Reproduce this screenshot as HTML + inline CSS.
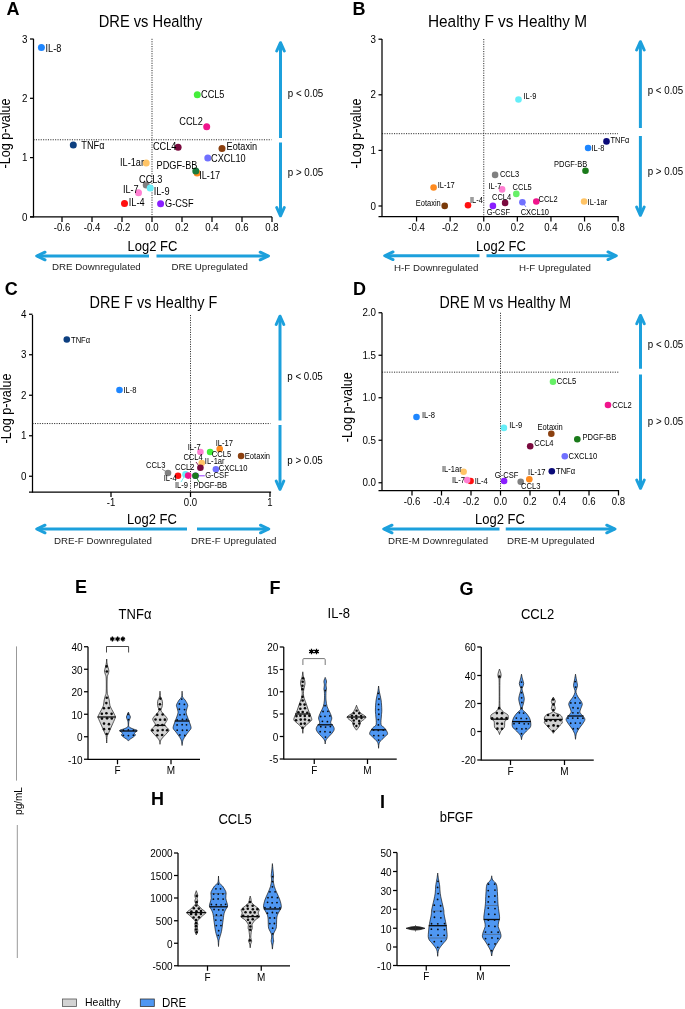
<!DOCTYPE html>
<html><head><meta charset="utf-8"><style>
html,body{margin:0;padding:0;background:#fff;}
body{width:685px;height:1009px;overflow:hidden;}
svg{display:block;will-change:transform;font-family:"Liberation Sans",sans-serif;}
</style></head><body>
<svg width="685" height="1009" viewBox="0 0 685 1009" font-family="Liberation Sans, sans-serif">
<rect width="685" height="1009" fill="#fff"/>
<line x1="33.5" y1="38.8" x2="33.5" y2="217.5" stroke="#000" stroke-width="1.25" stroke-linecap="butt"/>
<line x1="30.0" y1="216.9" x2="272.1" y2="216.9" stroke="#000" stroke-width="1.25" stroke-linecap="butt"/>
<line x1="30.0" y1="216.9" x2="33.5" y2="216.9" stroke="#000" stroke-width="1.25" stroke-linecap="butt"/>
<text transform="translate(27.5 220.5) scale(1 1.12)" font-size="9.8" text-anchor="end" fill="#000" >0</text>
<line x1="30.0" y1="157.60000000000002" x2="33.5" y2="157.60000000000002" stroke="#000" stroke-width="1.25" stroke-linecap="butt"/>
<text transform="translate(27.5 161.20000000000002) scale(1 1.12)" font-size="9.8" text-anchor="end" fill="#000" >1</text>
<line x1="30.0" y1="98.30000000000001" x2="33.5" y2="98.30000000000001" stroke="#000" stroke-width="1.25" stroke-linecap="butt"/>
<text transform="translate(27.5 101.9) scale(1 1.12)" font-size="9.8" text-anchor="end" fill="#000" >2</text>
<line x1="30.0" y1="39.00000000000003" x2="33.5" y2="39.00000000000003" stroke="#000" stroke-width="1.25" stroke-linecap="butt"/>
<text transform="translate(27.5 42.60000000000003) scale(1 1.12)" font-size="9.8" text-anchor="end" fill="#000" >3</text>
<line x1="62.0" y1="216.9" x2="62.0" y2="221.9" stroke="#000" stroke-width="1.25" stroke-linecap="butt"/>
<text transform="translate(62.0 230.9) scale(1 1.12)" font-size="9.6" text-anchor="middle" fill="#000" >-0.6</text>
<line x1="92.0" y1="216.9" x2="92.0" y2="221.9" stroke="#000" stroke-width="1.25" stroke-linecap="butt"/>
<text transform="translate(92.0 230.9) scale(1 1.12)" font-size="9.6" text-anchor="middle" fill="#000" >-0.4</text>
<line x1="122.0" y1="216.9" x2="122.0" y2="221.9" stroke="#000" stroke-width="1.25" stroke-linecap="butt"/>
<text transform="translate(122.0 230.9) scale(1 1.12)" font-size="9.6" text-anchor="middle" fill="#000" >-0.2</text>
<line x1="152" y1="216.9" x2="152" y2="221.9" stroke="#000" stroke-width="1.25" stroke-linecap="butt"/>
<text transform="translate(152 230.9) scale(1 1.12)" font-size="9.6" text-anchor="middle" fill="#000" >0.0</text>
<line x1="182.0" y1="216.9" x2="182.0" y2="221.9" stroke="#000" stroke-width="1.25" stroke-linecap="butt"/>
<text transform="translate(182.0 230.9) scale(1 1.12)" font-size="9.6" text-anchor="middle" fill="#000" >0.2</text>
<line x1="212.0" y1="216.9" x2="212.0" y2="221.9" stroke="#000" stroke-width="1.25" stroke-linecap="butt"/>
<text transform="translate(212.0 230.9) scale(1 1.12)" font-size="9.6" text-anchor="middle" fill="#000" >0.4</text>
<line x1="242.0" y1="216.9" x2="242.0" y2="221.9" stroke="#000" stroke-width="1.25" stroke-linecap="butt"/>
<text transform="translate(242.0 230.9) scale(1 1.12)" font-size="9.6" text-anchor="middle" fill="#000" >0.6</text>
<line x1="272.0" y1="216.9" x2="272.0" y2="221.9" stroke="#000" stroke-width="1.25" stroke-linecap="butt"/>
<text transform="translate(272.0 230.9) scale(1 1.12)" font-size="9.6" text-anchor="middle" fill="#000" >0.8</text>
<line x1="152" y1="38.8" x2="152" y2="216.9" stroke="#151515" stroke-width="0.9" stroke-dasharray="1.1,1.3" stroke-linecap="butt"/>
<line x1="33.5" y1="139.7507" x2="271.5" y2="139.7507" stroke="#151515" stroke-width="0.9" stroke-dasharray="1.1,1.3" stroke-linecap="butt"/>
<text transform="translate(6.4 14.8) scale(1 1.0)" font-size="18" text-anchor="start" font-weight="bold" fill="#000" >A</text>
<text transform="translate(150.5 26.8) scale(1 1.12)" font-size="14.7" text-anchor="middle" fill="#000" >DRE vs Healthy</text>
<text transform="translate(9.8 133.5) rotate(-90) scale(1 1.12)" font-size="12.6" text-anchor="middle" fill="#000" >-Log p-value</text>
<text transform="translate(152.5 251) scale(1 1.12)" font-size="13" text-anchor="middle" fill="#000" >Log2 FC</text>
<line x1="280.5" y1="43" x2="280.5" y2="138" stroke="#1ca0dc" stroke-width="3" stroke-linecap="butt"/>
<path d="M276.7,51.0 L280.5,42.7 L284.3,51.0" fill="none" stroke="#1ca0dc" stroke-width="3" stroke-linecap="round" stroke-linejoin="round"/>
<line x1="280.5" y1="215.5" x2="280.5" y2="142.5" stroke="#1ca0dc" stroke-width="3" stroke-linecap="butt"/>
<path d="M276.7,207.5 L280.5,215.8 L284.3,207.5" fill="none" stroke="#1ca0dc" stroke-width="3" stroke-linecap="round" stroke-linejoin="round"/>
<text transform="translate(287.8 96.9) scale(1 1.12)" font-size="9.75" text-anchor="start" fill="#000" >p &lt; 0.05</text>
<text transform="translate(287.8 176.4) scale(1 1.12)" font-size="9.75" text-anchor="start" fill="#000" >p &gt; 0.05</text>
<line x1="37" y1="256" x2="149" y2="256" stroke="#1ca0dc" stroke-width="3" stroke-linecap="butt"/>
<path d="M45.0,252.2 L36.7,256 L45.0,259.8" fill="none" stroke="#1ca0dc" stroke-width="3" stroke-linecap="round" stroke-linejoin="round"/>
<line x1="268.2" y1="256" x2="156.5" y2="256" stroke="#1ca0dc" stroke-width="3" stroke-linecap="butt"/>
<path d="M260.2,252.2 L268.5,256 L260.2,259.8" fill="none" stroke="#1ca0dc" stroke-width="3" stroke-linecap="round" stroke-linejoin="round"/>
<text transform="translate(52 270.3) scale(1 0.97)" font-size="9.75" text-anchor="start" fill="#222" >DRE Downregulated</text>
<text transform="translate(171.5 270.3) scale(1 0.97)" font-size="9.75" text-anchor="start" fill="#222" >DRE Upregulated</text>
<circle cx="41.4" cy="47.5" r="3.5" fill="#1e86ff"/>
<circle cx="197.3" cy="94.8" r="3.5" fill="#44ee3a"/>
<circle cx="206.7" cy="126.7" r="3.5" fill="#f0148c"/>
<circle cx="73.3" cy="145" r="3.5" fill="#0d3f80"/>
<circle cx="178.1" cy="147.2" r="3.5" fill="#7a0a3e"/>
<circle cx="222" cy="148.4" r="3.5" fill="#8b4010"/>
<circle cx="207.8" cy="158.1" r="3.5" fill="#7070ff"/>
<circle cx="146.2" cy="163" r="3.5" fill="#ffc466"/>
<circle cx="197.1" cy="172.9" r="3.5" fill="#ff8a1e"/>
<circle cx="195.8" cy="171" r="3.5" fill="#1a7a3c"/>
<circle cx="146.2" cy="185" r="3.5" fill="#808080"/>
<circle cx="150.2" cy="187.9" r="3.5" fill="#66eef8"/>
<circle cx="138.5" cy="192.7" r="3.5" fill="#ff80d2"/>
<circle cx="124.5" cy="203.4" r="3.5" fill="#ff1010"/>
<circle cx="160.6" cy="203.8" r="3.5" fill="#8a1eff"/>
<text transform="translate(45.5 51.9) scale(1 1.12)" font-size="9.2" text-anchor="start" fill="#000" >IL-8</text>
<text transform="translate(201 98) scale(1 1.12)" font-size="9.2" text-anchor="start" fill="#000" >CCL5</text>
<text transform="translate(179.3 125) scale(1 1.12)" font-size="9.2" text-anchor="start" fill="#000" >CCL2</text>
<text transform="translate(81.3 148.8) scale(1 1.12)" font-size="9.2" text-anchor="start" fill="#000" >TNFα</text>
<text transform="translate(152.9 150.4) scale(1 1.12)" font-size="9.2" text-anchor="start" fill="#000" >CCL4</text>
<text transform="translate(226.5 149.5) scale(1 1.12)" font-size="9.2" text-anchor="start" fill="#000" >Eotaxin</text>
<text transform="translate(211 162.2) scale(1 1.12)" font-size="9.2" text-anchor="start" fill="#000" >CXCL10</text>
<text transform="translate(120 165.7) scale(1 1.12)" font-size="9.2" text-anchor="start" fill="#000" >IL-1ar</text>
<text transform="translate(199.2 179.3) scale(1 1.12)" font-size="9.2" text-anchor="start" fill="#000" >IL-17</text>
<text transform="translate(156.6 168.6) scale(1 1.12)" font-size="9.2" text-anchor="start" fill="#000" >PDGF-BB</text>
<text transform="translate(139 182.6) scale(1 1.12)" font-size="9.2" text-anchor="start" fill="#000" >CCL3</text>
<text transform="translate(153.7 195.4) scale(1 1.12)" font-size="9.2" text-anchor="start" fill="#000" >IL-9</text>
<text transform="translate(122.9 193) scale(1 1.12)" font-size="9.2" text-anchor="start" fill="#000" >IL-7</text>
<text transform="translate(128.8 206.3) scale(1 1.12)" font-size="9.2" text-anchor="start" fill="#000" >IL-4</text>
<text transform="translate(165 207.1) scale(1 1.12)" font-size="9.2" text-anchor="start" fill="#000" >G-CSF</text>
<line x1="382" y1="39" x2="382" y2="217.1" stroke="#000" stroke-width="1.25" stroke-linecap="butt"/>
<line x1="378.5" y1="216.5" x2="618.6" y2="216.5" stroke="#000" stroke-width="1.25" stroke-linecap="butt"/>
<line x1="378.5" y1="206.0" x2="382" y2="206.0" stroke="#000" stroke-width="1.25" stroke-linecap="butt"/>
<text transform="translate(376 209.6) scale(1 1.12)" font-size="9.8" text-anchor="end" fill="#000" >0</text>
<line x1="378.5" y1="150.4" x2="382" y2="150.4" stroke="#000" stroke-width="1.25" stroke-linecap="butt"/>
<text transform="translate(376 154.0) scale(1 1.12)" font-size="9.8" text-anchor="end" fill="#000" >1</text>
<line x1="378.5" y1="94.8" x2="382" y2="94.8" stroke="#000" stroke-width="1.25" stroke-linecap="butt"/>
<text transform="translate(376 98.39999999999999) scale(1 1.12)" font-size="9.8" text-anchor="end" fill="#000" >2</text>
<line x1="378.5" y1="39.19999999999999" x2="382" y2="39.19999999999999" stroke="#000" stroke-width="1.25" stroke-linecap="butt"/>
<text transform="translate(376 42.79999999999999) scale(1 1.12)" font-size="9.8" text-anchor="end" fill="#000" >3</text>
<line x1="416.55" y1="216.5" x2="416.55" y2="221.5" stroke="#000" stroke-width="1.25" stroke-linecap="butt"/>
<text transform="translate(416.55 230.5) scale(1 1.12)" font-size="9.6" text-anchor="middle" fill="#000" >-0.4</text>
<line x1="450.15" y1="216.5" x2="450.15" y2="221.5" stroke="#000" stroke-width="1.25" stroke-linecap="butt"/>
<text transform="translate(450.15 230.5) scale(1 1.12)" font-size="9.6" text-anchor="middle" fill="#000" >-0.2</text>
<line x1="483.75" y1="216.5" x2="483.75" y2="221.5" stroke="#000" stroke-width="1.25" stroke-linecap="butt"/>
<text transform="translate(483.75 230.5) scale(1 1.12)" font-size="9.6" text-anchor="middle" fill="#000" >0.0</text>
<line x1="517.35" y1="216.5" x2="517.35" y2="221.5" stroke="#000" stroke-width="1.25" stroke-linecap="butt"/>
<text transform="translate(517.35 230.5) scale(1 1.12)" font-size="9.6" text-anchor="middle" fill="#000" >0.2</text>
<line x1="550.95" y1="216.5" x2="550.95" y2="221.5" stroke="#000" stroke-width="1.25" stroke-linecap="butt"/>
<text transform="translate(550.95 230.5) scale(1 1.12)" font-size="9.6" text-anchor="middle" fill="#000" >0.4</text>
<line x1="584.55" y1="216.5" x2="584.55" y2="221.5" stroke="#000" stroke-width="1.25" stroke-linecap="butt"/>
<text transform="translate(584.55 230.5) scale(1 1.12)" font-size="9.6" text-anchor="middle" fill="#000" >0.6</text>
<line x1="618.15" y1="216.5" x2="618.15" y2="221.5" stroke="#000" stroke-width="1.25" stroke-linecap="butt"/>
<text transform="translate(618.15 230.5) scale(1 1.12)" font-size="9.6" text-anchor="middle" fill="#000" >0.8</text>
<line x1="483.75" y1="39" x2="483.75" y2="216.5" stroke="#151515" stroke-width="0.9" stroke-dasharray="1.1,1.3" stroke-linecap="butt"/>
<line x1="382" y1="133.6644" x2="618" y2="133.6644" stroke="#151515" stroke-width="0.9" stroke-dasharray="1.1,1.3" stroke-linecap="butt"/>
<text transform="translate(352.5 14.5) scale(1 1.0)" font-size="18" text-anchor="start" font-weight="bold" fill="#000" >B</text>
<text transform="translate(507.5 27.2) scale(1 1.12)" font-size="15.4" text-anchor="middle" fill="#000" >Healthy F vs Healthy M</text>
<text transform="translate(360.5 133.5) rotate(-90) scale(1 1.12)" font-size="12.6" text-anchor="middle" fill="#000" >-Log p-value</text>
<text transform="translate(501 251) scale(1 1.12)" font-size="13" text-anchor="middle" fill="#000" >Log2 FC</text>
<line x1="640.4" y1="42" x2="640.4" y2="128" stroke="#1ca0dc" stroke-width="3" stroke-linecap="butt"/>
<path d="M636.6,50.0 L640.4,41.7 L644.1999999999999,50.0" fill="none" stroke="#1ca0dc" stroke-width="3" stroke-linecap="round" stroke-linejoin="round"/>
<line x1="640.4" y1="215" x2="640.4" y2="136" stroke="#1ca0dc" stroke-width="3" stroke-linecap="butt"/>
<path d="M636.6,207.0 L640.4,215.3 L644.1999999999999,207.0" fill="none" stroke="#1ca0dc" stroke-width="3" stroke-linecap="round" stroke-linejoin="round"/>
<text transform="translate(647.6999999999999 94.4) scale(1 1.12)" font-size="9.75" text-anchor="start" fill="#000" >p &lt; 0.05</text>
<text transform="translate(647.6999999999999 175.4) scale(1 1.12)" font-size="9.75" text-anchor="start" fill="#000" >p &gt; 0.05</text>
<line x1="385" y1="255.75" x2="479.5" y2="255.75" stroke="#1ca0dc" stroke-width="3" stroke-linecap="butt"/>
<path d="M393.0,251.95 L384.7,255.75 L393.0,259.55" fill="none" stroke="#1ca0dc" stroke-width="3" stroke-linecap="round" stroke-linejoin="round"/>
<line x1="616" y1="255.75" x2="486.5" y2="255.75" stroke="#1ca0dc" stroke-width="3" stroke-linecap="butt"/>
<path d="M608.0,251.95 L616.3,255.75 L608.0,259.55" fill="none" stroke="#1ca0dc" stroke-width="3" stroke-linecap="round" stroke-linejoin="round"/>
<text transform="translate(394 271.3) scale(1 0.97)" font-size="9.75" text-anchor="start" fill="#222" >H-F Downregulated</text>
<text transform="translate(519 271.3) scale(1 0.97)" font-size="9.75" text-anchor="start" fill="#222" >H-F Upregulated</text>
<line x1="522.4" y1="202.3" x2="526" y2="207" stroke="#7070ff" stroke-width="0.9" stroke-linecap="butt"/>
<circle cx="518.5" cy="99.5" r="3.3" fill="#66eef8"/>
<circle cx="606.5" cy="141.4" r="3.3" fill="#0a0a78"/>
<circle cx="588.1" cy="148" r="3.3" fill="#1e86ff"/>
<circle cx="585.5" cy="170.8" r="3.3" fill="#1a7a1a"/>
<circle cx="495.1" cy="174.9" r="3.3" fill="#808080"/>
<circle cx="433.6" cy="187.5" r="3.3" fill="#ff8a1e"/>
<circle cx="502.1" cy="189.4" r="3.3" fill="#ff80d2"/>
<circle cx="516.3" cy="193.9" r="3.3" fill="#66f066"/>
<circle cx="505.1" cy="202.9" r="3.3" fill="#7a0a3e"/>
<circle cx="536.3" cy="201.5" r="3.3" fill="#f0148c"/>
<circle cx="584.1" cy="201.5" r="3.3" fill="#ffc466"/>
<circle cx="522.4" cy="202.3" r="3.3" fill="#7070ff"/>
<circle cx="444.7" cy="205.9" r="3.3" fill="#7a3a0a"/>
<circle cx="468" cy="205.2" r="3.3" fill="#ff1010"/>
<circle cx="492.9" cy="205.9" r="3.3" fill="#8a1eff"/>
<text transform="translate(523.5 98.8) scale(1 1.12)" font-size="7.5" text-anchor="start" fill="#000" >IL-9</text>
<text transform="translate(610.5 142.5) scale(1 1.12)" font-size="7.5" text-anchor="start" fill="#000" >TNFα</text>
<text transform="translate(591.5 151.2) scale(1 1.12)" font-size="7.5" text-anchor="start" fill="#000" >IL-8</text>
<text transform="translate(554 167.3) scale(1 1.12)" font-size="7.5" text-anchor="start" fill="#000" >PDGF-BB</text>
<text transform="translate(499.9 176.6) scale(1 1.12)" font-size="7.5" text-anchor="start" fill="#000" >CCL3</text>
<text transform="translate(437.7 188) scale(1 1.12)" font-size="7.5" text-anchor="start" fill="#000" >IL-17</text>
<text transform="translate(488.5 189.4) scale(1 1.12)" font-size="7.5" text-anchor="start" fill="#000" >IL-7</text>
<text transform="translate(512.6 189.7) scale(1 1.12)" font-size="7.5" text-anchor="start" fill="#000" >CCL5</text>
<text transform="translate(492 200) scale(1 1.12)" font-size="7.5" text-anchor="start" fill="#000" >CCL4</text>
<text transform="translate(538.5 202) scale(1 1.12)" font-size="7.5" text-anchor="start" fill="#000" >CCL2</text>
<text transform="translate(587.6 205) scale(1 1.12)" font-size="7.5" text-anchor="start" fill="#000" >IL-1ar</text>
<text transform="translate(520.7 214.6) scale(1 1.12)" font-size="7.5" text-anchor="start" fill="#000" >CXCL10</text>
<text transform="translate(415.8 205.5) scale(1 1.12)" font-size="7.5" text-anchor="start" fill="#000" >Eotaxin</text>
<text transform="translate(470 203.4) scale(1 1.12)" font-size="7.5" text-anchor="start" fill="#000" >IL-4</text>
<text transform="translate(486.7 214.7) scale(1 1.12)" font-size="7.5" text-anchor="start" fill="#000" >G-CSF</text>
<line x1="32.5" y1="315" x2="32.5" y2="492.6" stroke="#000" stroke-width="1.25" stroke-linecap="butt"/>
<line x1="29.0" y1="492" x2="271.1" y2="492" stroke="#000" stroke-width="1.25" stroke-linecap="butt"/>
<line x1="29.0" y1="476.25" x2="32.5" y2="476.25" stroke="#000" stroke-width="1.25" stroke-linecap="butt"/>
<text transform="translate(26.5 479.85) scale(1 1.12)" font-size="9.8" text-anchor="end" fill="#000" >0</text>
<line x1="29.0" y1="435.75" x2="32.5" y2="435.75" stroke="#000" stroke-width="1.25" stroke-linecap="butt"/>
<text transform="translate(26.5 439.35) scale(1 1.12)" font-size="9.8" text-anchor="end" fill="#000" >1</text>
<line x1="29.0" y1="395.25" x2="32.5" y2="395.25" stroke="#000" stroke-width="1.25" stroke-linecap="butt"/>
<text transform="translate(26.5 398.85) scale(1 1.12)" font-size="9.8" text-anchor="end" fill="#000" >2</text>
<line x1="29.0" y1="354.75" x2="32.5" y2="354.75" stroke="#000" stroke-width="1.25" stroke-linecap="butt"/>
<text transform="translate(26.5 358.35) scale(1 1.12)" font-size="9.8" text-anchor="end" fill="#000" >3</text>
<line x1="29.0" y1="314.25" x2="32.5" y2="314.25" stroke="#000" stroke-width="1.25" stroke-linecap="butt"/>
<text transform="translate(26.5 317.85) scale(1 1.12)" font-size="9.8" text-anchor="end" fill="#000" >4</text>
<line x1="111.0" y1="492" x2="111.0" y2="497" stroke="#000" stroke-width="1.25" stroke-linecap="butt"/>
<text transform="translate(111.0 506) scale(1 1.12)" font-size="9.6" text-anchor="middle" fill="#000" >-1</text>
<line x1="190.5" y1="492" x2="190.5" y2="497" stroke="#000" stroke-width="1.25" stroke-linecap="butt"/>
<text transform="translate(190.5 506) scale(1 1.12)" font-size="9.6" text-anchor="middle" fill="#000" >0.0</text>
<line x1="270.0" y1="492" x2="270.0" y2="497" stroke="#000" stroke-width="1.25" stroke-linecap="butt"/>
<text transform="translate(270.0 506) scale(1 1.12)" font-size="9.6" text-anchor="middle" fill="#000" >1</text>
<line x1="190.5" y1="315" x2="190.5" y2="492" stroke="#151515" stroke-width="0.9" stroke-dasharray="1.1,1.3" stroke-linecap="butt"/>
<line x1="32.5" y1="423.5595" x2="270.5" y2="423.5595" stroke="#151515" stroke-width="0.9" stroke-dasharray="1.1,1.3" stroke-linecap="butt"/>
<text transform="translate(4.8 295) scale(1 1.0)" font-size="18" text-anchor="start" font-weight="bold" fill="#000" >C</text>
<text transform="translate(153.4 307.5) scale(1 1.12)" font-size="14.47" text-anchor="middle" fill="#000" >DRE F vs Healthy F</text>
<text transform="translate(11 408.5) rotate(-90) scale(1 1.12)" font-size="12.6" text-anchor="middle" fill="#000" >-Log p-value</text>
<text transform="translate(152 524) scale(1 1.12)" font-size="13" text-anchor="middle" fill="#000" >Log2 FC</text>
<line x1="280" y1="316.5" x2="280" y2="420.5" stroke="#1ca0dc" stroke-width="3" stroke-linecap="butt"/>
<path d="M276.2,324.5 L280,316.2 L283.8,324.5" fill="none" stroke="#1ca0dc" stroke-width="3" stroke-linecap="round" stroke-linejoin="round"/>
<line x1="280" y1="489" x2="280" y2="425" stroke="#1ca0dc" stroke-width="3" stroke-linecap="butt"/>
<path d="M276.2,481.0 L280,489.3 L283.8,481.0" fill="none" stroke="#1ca0dc" stroke-width="3" stroke-linecap="round" stroke-linejoin="round"/>
<text transform="translate(287.3 380.4) scale(1 1.12)" font-size="9.75" text-anchor="start" fill="#000" >p &lt; 0.05</text>
<text transform="translate(287.3 464.4) scale(1 1.12)" font-size="9.75" text-anchor="start" fill="#000" >p &gt; 0.05</text>
<line x1="37" y1="529" x2="187" y2="529" stroke="#1ca0dc" stroke-width="3" stroke-linecap="butt"/>
<path d="M45.0,525.2 L36.7,529 L45.0,532.8" fill="none" stroke="#1ca0dc" stroke-width="3" stroke-linecap="round" stroke-linejoin="round"/>
<line x1="268.5" y1="529" x2="197" y2="529" stroke="#1ca0dc" stroke-width="3" stroke-linecap="butt"/>
<path d="M260.5,525.2 L268.8,529 L260.5,532.8" fill="none" stroke="#1ca0dc" stroke-width="3" stroke-linecap="round" stroke-linejoin="round"/>
<text transform="translate(54 544.3) scale(1 0.97)" font-size="9.75" text-anchor="start" fill="#222" >DRE-F Downregulated</text>
<text transform="translate(191 544.3) scale(1 0.97)" font-size="9.75" text-anchor="start" fill="#222" >DRE-F Upregulated</text>
<line x1="162" y1="469" x2="168" y2="473" stroke="#808080" stroke-width="0.9" stroke-linecap="butt"/>
<line x1="185.5" y1="474.4" x2="181" y2="482" stroke="#66eef8" stroke-width="0.9" stroke-linecap="butt"/>
<line x1="195.5" y1="475.8" x2="204.8" y2="475.8" stroke="#8a1eff" stroke-width="0.9" stroke-linecap="butt"/>
<line x1="195.5" y1="475.8" x2="199" y2="482" stroke="#1a7a1a" stroke-width="0.9" stroke-linecap="butt"/>
<line x1="196" y1="462" x2="200.4" y2="467.8" stroke="#7a0a3e" stroke-width="0.9" stroke-linecap="butt"/>
<circle cx="66.8" cy="339.5" r="3.3" fill="#0d3f80"/>
<circle cx="119.5" cy="390" r="3.3" fill="#1e86ff"/>
<circle cx="168" cy="473" r="3.3" fill="#808080"/>
<circle cx="185.5" cy="474.4" r="3.3" fill="#66eef8"/>
<circle cx="178" cy="475.8" r="3.3" fill="#ff1010"/>
<circle cx="188.2" cy="475.6" r="3.3" fill="#f0148c"/>
<circle cx="195.5" cy="475.8" r="3.3" fill="#8a1eff"/>
<circle cx="195.5" cy="475.8" r="3.3" fill="#1a7a1a"/>
<circle cx="201.7" cy="463" r="3.3" fill="#ffc466"/>
<circle cx="200.4" cy="467.8" r="3.3" fill="#7a0a3e"/>
<circle cx="200.4" cy="452" r="3.3" fill="#ff80d2"/>
<circle cx="210.1" cy="452" r="3.3" fill="#44ee3a"/>
<circle cx="219.7" cy="449" r="3.3" fill="#ff8a1e"/>
<circle cx="215.9" cy="469.2" r="3.3" fill="#7070ff"/>
<circle cx="241.1" cy="456" r="3.3" fill="#8b4010"/>
<text transform="translate(71 342.5) scale(1 1.12)" font-size="7.6" text-anchor="start" fill="#000" >TNFα</text>
<text transform="translate(123.5 393) scale(1 1.12)" font-size="7.6" text-anchor="start" fill="#000" >IL-8</text>
<text transform="translate(146.1 467.8) scale(1 1.12)" font-size="7.6" text-anchor="start" fill="#000" >CCL3</text>
<text transform="translate(175 487.6) scale(1 1.12)" font-size="7.6" text-anchor="start" fill="#000" >IL-9</text>
<text transform="translate(163.7 481.4) scale(1 1.12)" font-size="7.6" text-anchor="start" fill="#000" >IL-4</text>
<text transform="translate(175 470) scale(1 1.12)" font-size="7.6" text-anchor="start" fill="#000" >CCL2</text>
<text transform="translate(205.2 477.9) scale(1 1.12)" font-size="7.6" text-anchor="start" fill="#000" >G-CSF</text>
<text transform="translate(193.4 488.4) scale(1 1.12)" font-size="7.6" text-anchor="start" fill="#000" >PDGF-BB</text>
<text transform="translate(204.8 464.4) scale(1 1.12)" font-size="7.6" text-anchor="start" fill="#000" >IL-1ar</text>
<text transform="translate(183.4 460.4) scale(1 1.12)" font-size="7.6" text-anchor="start" fill="#000" >CCL4</text>
<text transform="translate(187.7 449.9) scale(1 1.12)" font-size="7.6" text-anchor="start" fill="#000" >IL-7</text>
<text transform="translate(211.8 457.4) scale(1 1.12)" font-size="7.6" text-anchor="start" fill="#000" >CCL5</text>
<text transform="translate(215.7 445.5) scale(1 1.12)" font-size="7.6" text-anchor="start" fill="#000" >IL-17</text>
<text transform="translate(218.8 471.3) scale(1 1.12)" font-size="7.6" text-anchor="start" fill="#000" >CXCL10</text>
<text transform="translate(244.8 458.7) scale(1 1.12)" font-size="7.6" text-anchor="start" fill="#000" >Eotaxin</text>
<line x1="382" y1="312.75" x2="382" y2="491.1" stroke="#000" stroke-width="1.25" stroke-linecap="butt"/>
<line x1="378.5" y1="490.5" x2="619.1" y2="490.5" stroke="#000" stroke-width="1.25" stroke-linecap="butt"/>
<line x1="378.5" y1="482.75" x2="382" y2="482.75" stroke="#000" stroke-width="1.25" stroke-linecap="butt"/>
<text transform="translate(376 486.35) scale(1 1.12)" font-size="9.8" text-anchor="end" fill="#000" >0.0</text>
<line x1="378.5" y1="440.25" x2="382" y2="440.25" stroke="#000" stroke-width="1.25" stroke-linecap="butt"/>
<text transform="translate(376 443.85) scale(1 1.12)" font-size="9.8" text-anchor="end" fill="#000" >0.5</text>
<line x1="378.5" y1="397.75" x2="382" y2="397.75" stroke="#000" stroke-width="1.25" stroke-linecap="butt"/>
<text transform="translate(376 401.35) scale(1 1.12)" font-size="9.8" text-anchor="end" fill="#000" >1.0</text>
<line x1="378.5" y1="355.25" x2="382" y2="355.25" stroke="#000" stroke-width="1.25" stroke-linecap="butt"/>
<text transform="translate(376 358.85) scale(1 1.12)" font-size="9.8" text-anchor="end" fill="#000" >1.5</text>
<line x1="378.5" y1="312.75" x2="382" y2="312.75" stroke="#000" stroke-width="1.25" stroke-linecap="butt"/>
<text transform="translate(376 316.35) scale(1 1.12)" font-size="9.8" text-anchor="end" fill="#000" >2.0</text>
<line x1="412.0" y1="490.5" x2="412.0" y2="495.5" stroke="#000" stroke-width="1.25" stroke-linecap="butt"/>
<text transform="translate(412.0 504.5) scale(1 1.12)" font-size="9.6" text-anchor="middle" fill="#000" >-0.6</text>
<line x1="441.5" y1="490.5" x2="441.5" y2="495.5" stroke="#000" stroke-width="1.25" stroke-linecap="butt"/>
<text transform="translate(441.5 504.5) scale(1 1.12)" font-size="9.6" text-anchor="middle" fill="#000" >-0.4</text>
<line x1="471.0" y1="490.5" x2="471.0" y2="495.5" stroke="#000" stroke-width="1.25" stroke-linecap="butt"/>
<text transform="translate(471.0 504.5) scale(1 1.12)" font-size="9.6" text-anchor="middle" fill="#000" >-0.2</text>
<line x1="500.5" y1="490.5" x2="500.5" y2="495.5" stroke="#000" stroke-width="1.25" stroke-linecap="butt"/>
<text transform="translate(500.5 504.5) scale(1 1.12)" font-size="9.6" text-anchor="middle" fill="#000" >0.0</text>
<line x1="530.0" y1="490.5" x2="530.0" y2="495.5" stroke="#000" stroke-width="1.25" stroke-linecap="butt"/>
<text transform="translate(530.0 504.5) scale(1 1.12)" font-size="9.6" text-anchor="middle" fill="#000" >0.2</text>
<line x1="559.5" y1="490.5" x2="559.5" y2="495.5" stroke="#000" stroke-width="1.25" stroke-linecap="butt"/>
<text transform="translate(559.5 504.5) scale(1 1.12)" font-size="9.6" text-anchor="middle" fill="#000" >0.4</text>
<line x1="589.0" y1="490.5" x2="589.0" y2="495.5" stroke="#000" stroke-width="1.25" stroke-linecap="butt"/>
<text transform="translate(589.0 504.5) scale(1 1.12)" font-size="9.6" text-anchor="middle" fill="#000" >0.6</text>
<line x1="618.5" y1="490.5" x2="618.5" y2="495.5" stroke="#000" stroke-width="1.25" stroke-linecap="butt"/>
<text transform="translate(618.5 504.5) scale(1 1.12)" font-size="9.6" text-anchor="middle" fill="#000" >0.8</text>
<line x1="500.5" y1="312.75" x2="500.5" y2="490.5" stroke="#151515" stroke-width="0.9" stroke-dasharray="1.1,1.3" stroke-linecap="butt"/>
<line x1="382" y1="372.165" x2="618.5" y2="372.165" stroke="#151515" stroke-width="0.9" stroke-dasharray="1.1,1.3" stroke-linecap="butt"/>
<text transform="translate(353 294.8) scale(1 1.0)" font-size="18" text-anchor="start" font-weight="bold" fill="#000" >D</text>
<text transform="translate(505.25 307.5) scale(1 1.12)" font-size="14.2" text-anchor="middle" fill="#000" >DRE M vs Healthy M</text>
<text transform="translate(351.5 407.3) rotate(-90) scale(1 1.12)" font-size="12.6" text-anchor="middle" fill="#000" >-Log p-value</text>
<text transform="translate(500 524) scale(1 1.12)" font-size="13" text-anchor="middle" fill="#000" >Log2 FC</text>
<line x1="640.5" y1="315.75" x2="640.5" y2="368.75" stroke="#1ca0dc" stroke-width="3" stroke-linecap="butt"/>
<path d="M636.7,323.75 L640.5,315.45 L644.3,323.75" fill="none" stroke="#1ca0dc" stroke-width="3" stroke-linecap="round" stroke-linejoin="round"/>
<line x1="640.5" y1="488" x2="640.5" y2="374.5" stroke="#1ca0dc" stroke-width="3" stroke-linecap="butt"/>
<path d="M636.7,480.0 L640.5,488.3 L644.3,480.0" fill="none" stroke="#1ca0dc" stroke-width="3" stroke-linecap="round" stroke-linejoin="round"/>
<text transform="translate(647.8 347.9) scale(1 1.12)" font-size="9.75" text-anchor="start" fill="#000" >p &lt; 0.05</text>
<text transform="translate(647.8 425.4) scale(1 1.12)" font-size="9.75" text-anchor="start" fill="#000" >p &gt; 0.05</text>
<line x1="384" y1="529" x2="499.5" y2="529" stroke="#1ca0dc" stroke-width="3" stroke-linecap="butt"/>
<path d="M392.0,525.2 L383.7,529 L392.0,532.8" fill="none" stroke="#1ca0dc" stroke-width="3" stroke-linecap="round" stroke-linejoin="round"/>
<line x1="614.75" y1="529" x2="505.75" y2="529" stroke="#1ca0dc" stroke-width="3" stroke-linecap="butt"/>
<path d="M606.75,525.2 L615.05,529 L606.75,532.8" fill="none" stroke="#1ca0dc" stroke-width="3" stroke-linecap="round" stroke-linejoin="round"/>
<text transform="translate(388 544.3) scale(1 0.97)" font-size="9.75" text-anchor="start" fill="#222" >DRE-M Downregulated</text>
<text transform="translate(507 544.3) scale(1 0.97)" font-size="9.75" text-anchor="start" fill="#222" >DRE-M Upregulated</text>
<circle cx="553" cy="381.8" r="3.3" fill="#66f066"/>
<circle cx="608" cy="405" r="3.3" fill="#f0148c"/>
<circle cx="416.5" cy="417" r="3.3" fill="#1e86ff"/>
<circle cx="503.9" cy="427.9" r="3.3" fill="#66eef8"/>
<circle cx="551.3" cy="433.8" r="3.3" fill="#8b4010"/>
<circle cx="577.3" cy="439.3" r="3.3" fill="#1a7a1a"/>
<circle cx="530.2" cy="446.3" r="3.3" fill="#7a0a3e"/>
<circle cx="564.8" cy="456.3" r="3.3" fill="#7070ff"/>
<circle cx="551.8" cy="471.3" r="3.3" fill="#0a0a78"/>
<circle cx="463.6" cy="471.8" r="3.3" fill="#ffc466"/>
<circle cx="470.6" cy="481" r="3.3" fill="#ff1010"/>
<circle cx="467.1" cy="480.1" r="3.3" fill="#ff80d2"/>
<circle cx="504.1" cy="481" r="3.3" fill="#8a1eff"/>
<circle cx="520.7" cy="481.8" r="3.3" fill="#808080"/>
<circle cx="529.3" cy="479.2" r="3.3" fill="#ff8a1e"/>
<text transform="translate(556.8 383.8) scale(1 1.12)" font-size="7.6" text-anchor="start" fill="#000" >CCL5</text>
<text transform="translate(612.3 407.5) scale(1 1.12)" font-size="7.6" text-anchor="start" fill="#000" >CCL2</text>
<text transform="translate(422 417.5) scale(1 1.12)" font-size="7.6" text-anchor="start" fill="#000" >IL-8</text>
<text transform="translate(509.2 428) scale(1 1.12)" font-size="7.6" text-anchor="start" fill="#000" >IL-9</text>
<text transform="translate(537.5 430) scale(1 1.12)" font-size="7.6" text-anchor="start" fill="#000" >Eotaxin</text>
<text transform="translate(582.5 439.5) scale(1 1.12)" font-size="7.6" text-anchor="start" fill="#000" >PDGF-BB</text>
<text transform="translate(534.2 445.5) scale(1 1.12)" font-size="7.6" text-anchor="start" fill="#000" >CCL4</text>
<text transform="translate(568.5 459.3) scale(1 1.12)" font-size="7.6" text-anchor="start" fill="#000" >CXCL10</text>
<text transform="translate(556 474.3) scale(1 1.12)" font-size="7.6" text-anchor="start" fill="#000" >TNFα</text>
<text transform="translate(441.9 471.7) scale(1 1.12)" font-size="7.6" text-anchor="start" fill="#000" >IL-1ar</text>
<text transform="translate(474.7 483.6) scale(1 1.12)" font-size="7.6" text-anchor="start" fill="#000" >IL-4</text>
<text transform="translate(451.9 482.7) scale(1 1.12)" font-size="7.6" text-anchor="start" fill="#000" >IL-7</text>
<text transform="translate(494.8 478.3) scale(1 1.12)" font-size="7.6" text-anchor="start" fill="#000" >G-CSF</text>
<text transform="translate(521.1 488.8) scale(1 1.12)" font-size="7.6" text-anchor="start" fill="#000" >CCL3</text>
<text transform="translate(528.1 475.2) scale(1 1.12)" font-size="7.6" text-anchor="start" fill="#000" >IL-17</text>
<line x1="88" y1="646.75" x2="88" y2="759.85" stroke="#000" stroke-width="1.25" stroke-linecap="butt"/>
<line x1="88" y1="759.25" x2="200" y2="759.25" stroke="#000" stroke-width="1.25" stroke-linecap="butt"/>
<line x1="84" y1="646.75" x2="88" y2="646.75" stroke="#000" stroke-width="1.25" stroke-linecap="butt"/>
<text transform="translate(82.5 651.15) scale(1 1.07)" font-size="10" text-anchor="end" fill="#000" >40</text>
<line x1="84" y1="669.25" x2="88" y2="669.25" stroke="#000" stroke-width="1.25" stroke-linecap="butt"/>
<text transform="translate(82.5 673.65) scale(1 1.07)" font-size="10" text-anchor="end" fill="#000" >30</text>
<line x1="84" y1="691.75" x2="88" y2="691.75" stroke="#000" stroke-width="1.25" stroke-linecap="butt"/>
<text transform="translate(82.5 696.15) scale(1 1.07)" font-size="10" text-anchor="end" fill="#000" >20</text>
<line x1="84" y1="714.25" x2="88" y2="714.25" stroke="#000" stroke-width="1.25" stroke-linecap="butt"/>
<text transform="translate(82.5 718.65) scale(1 1.07)" font-size="10" text-anchor="end" fill="#000" >10</text>
<line x1="84" y1="736.75" x2="88" y2="736.75" stroke="#000" stroke-width="1.25" stroke-linecap="butt"/>
<text transform="translate(82.5 741.15) scale(1 1.07)" font-size="10" text-anchor="end" fill="#000" >0</text>
<line x1="84" y1="759.25" x2="88" y2="759.25" stroke="#000" stroke-width="1.25" stroke-linecap="butt"/>
<text transform="translate(82.5 763.65) scale(1 1.07)" font-size="10" text-anchor="end" fill="#000" >-10</text>
<line x1="117.5" y1="759.25" x2="117.5" y2="764.25" stroke="#000" stroke-width="1.25" stroke-linecap="butt"/>
<text transform="translate(117.5 774.05) scale(1 1.12)" font-size="10" text-anchor="middle" fill="#000" >F</text>
<line x1="171" y1="759.25" x2="171" y2="764.25" stroke="#000" stroke-width="1.25" stroke-linecap="butt"/>
<text transform="translate(171 774.05) scale(1 1.12)" font-size="10" text-anchor="middle" fill="#000" >M</text>
<text transform="translate(75 593) scale(1 1.0)" font-size="18" text-anchor="start" font-weight="bold" fill="#000" >E</text>
<text transform="translate(135 618.8) scale(1 1.12)" font-size="13" text-anchor="middle" fill="#000" >TNFα</text>
<path d="M106.70,659.00 C106.62,659.83 106.45,662.50 106.20,664.00 C105.95,665.50 105.48,666.83 105.20,668.00 C104.92,669.17 104.50,670.00 104.50,671.00 C104.50,672.00 104.92,672.83 105.20,674.00 C105.48,675.17 106.03,675.00 106.20,678.00 C106.37,681.00 106.37,689.00 106.20,692.00 C106.03,695.00 105.53,694.67 105.20,696.00 C104.87,697.33 104.45,698.67 104.20,700.00 C103.95,701.33 103.92,702.83 103.70,704.00 C103.48,705.17 103.48,705.67 102.90,707.00 C102.32,708.33 101.02,710.42 100.20,712.00 C99.38,713.58 98.33,715.50 98.00,716.50 C97.67,717.50 97.58,716.42 98.20,718.00 C98.82,719.58 100.53,723.33 101.70,726.00 C102.87,728.67 104.45,732.33 105.20,734.00 C105.95,735.67 105.95,734.50 106.20,736.00 C106.45,737.50 106.62,741.83 106.70,743.00 L106.70,743.00 C106.78,741.83 106.95,737.50 107.20,736.00 C107.45,734.50 107.45,735.67 108.20,734.00 C108.95,732.33 110.53,728.67 111.70,726.00 C112.87,723.33 114.58,719.58 115.20,718.00 C115.82,716.42 115.73,717.50 115.40,716.50 C115.07,715.50 114.02,713.58 113.20,712.00 C112.38,710.42 111.08,708.33 110.50,707.00 C109.92,705.67 109.92,705.17 109.70,704.00 C109.48,702.83 109.45,701.33 109.20,700.00 C108.95,698.67 108.53,697.33 108.20,696.00 C107.87,694.67 107.37,695.00 107.20,692.00 C107.03,689.00 107.03,681.00 107.20,678.00 C107.37,675.00 107.92,675.17 108.20,674.00 C108.48,672.83 108.90,672.00 108.90,671.00 C108.90,670.00 108.48,669.17 108.20,668.00 C107.92,666.83 107.45,665.50 107.20,664.00 C106.95,662.50 106.78,659.83 106.70,659.00Z" fill="#d3d3d3" stroke="#0a0a0a" stroke-width="0.65" stroke-linejoin="round"/>
<line x1="97.56666666666666" y1="717" x2="115.83333333333334" y2="717" stroke="#0a0a0a" stroke-width="1.3" stroke-linecap="butt"/>
<circle cx="106.56" cy="666.42" r="1.3" fill="#0a0a0a"/>
<circle cx="106.82" cy="671.56" r="1.3" fill="#0a0a0a"/>
<circle cx="106.73" cy="697.79" r="1.3" fill="#0a0a0a"/>
<circle cx="106.35" cy="703.11" r="1.3" fill="#0a0a0a"/>
<circle cx="103.93" cy="708.25" r="1.3" fill="#0a0a0a"/>
<circle cx="108.76" cy="707.97" r="1.3" fill="#0a0a0a"/>
<circle cx="101.84" cy="713.76" r="1.3" fill="#0a0a0a"/>
<circle cx="106.4" cy="713.28" r="1.3" fill="#0a0a0a"/>
<circle cx="111.6" cy="713.86" r="1.3" fill="#0a0a0a"/>
<circle cx="101.96" cy="718.62" r="1.3" fill="#0a0a0a"/>
<circle cx="107.08" cy="718.34" r="1.3" fill="#0a0a0a"/>
<circle cx="111.79" cy="718.53" r="1.3" fill="#0a0a0a"/>
<circle cx="104.02" cy="723.59" r="1.3" fill="#0a0a0a"/>
<circle cx="108.95" cy="724.15" r="1.3" fill="#0a0a0a"/>
<circle cx="104.04" cy="729.17" r="1.3" fill="#0a0a0a"/>
<circle cx="109.21" cy="729.0" r="1.3" fill="#0a0a0a"/>
<circle cx="106.74" cy="733.95" r="1.3" fill="#0a0a0a"/>
<path d="M128.40,712.00 C128.20,712.50 127.53,714.17 127.20,715.00 C126.87,715.83 126.40,716.25 126.40,717.00 C126.40,717.75 126.95,718.73 127.20,719.50 C127.45,720.27 127.80,720.40 127.90,721.60 C128.00,722.80 128.55,725.47 127.80,726.70 C127.05,727.93 124.77,728.37 123.40,729.00 C122.03,729.63 119.77,729.83 119.60,730.50 C119.43,731.17 122.10,732.25 122.40,733.00 C122.70,733.75 121.23,734.33 121.40,735.00 C121.57,735.67 122.57,736.33 123.40,737.00 C124.23,737.67 125.62,738.42 126.40,739.00 C127.18,739.58 127.77,740.17 128.10,740.50 C128.43,740.83 128.35,740.92 128.40,741.00 L128.40,741.00 C128.45,740.92 128.37,740.83 128.70,740.50 C129.03,740.17 129.62,739.58 130.40,739.00 C131.18,738.42 132.57,737.67 133.40,737.00 C134.23,736.33 135.23,735.67 135.40,735.00 C135.57,734.33 134.10,733.75 134.40,733.00 C134.70,732.25 137.37,731.17 137.20,730.50 C137.03,729.83 134.77,729.63 133.40,729.00 C132.03,728.37 129.75,727.93 129.00,726.70 C128.25,725.47 128.80,722.80 128.90,721.60 C129.00,720.40 129.35,720.27 129.60,719.50 C129.85,718.73 130.40,717.75 130.40,717.00 C130.40,716.25 129.93,715.83 129.60,715.00 C129.27,714.17 128.60,712.50 128.40,712.00Z" fill="#4f97f2" stroke="#0a0a0a" stroke-width="0.65" stroke-linejoin="round"/>
<line x1="119.66000000000001" y1="731" x2="137.14000000000001" y2="731" stroke="#0a0a0a" stroke-width="1.3" stroke-linecap="butt"/>
<circle cx="128.05" cy="714.26" r="0.9" fill="#0a0a0a"/>
<circle cx="128.54" cy="719.64" r="0.9" fill="#0a0a0a"/>
<circle cx="123.45" cy="730.17" r="0.9" fill="#0a0a0a"/>
<circle cx="128.36" cy="729.94" r="0.9" fill="#0a0a0a"/>
<circle cx="133.44" cy="730.26" r="0.9" fill="#0a0a0a"/>
<circle cx="123.4" cy="735.36" r="0.9" fill="#0a0a0a"/>
<circle cx="128.42" cy="735.6" r="0.9" fill="#0a0a0a"/>
<circle cx="133.38" cy="735.13" r="0.9" fill="#0a0a0a"/>
<path d="M160.00,691.20 C159.90,692.17 159.73,695.53 159.40,697.00 C159.07,698.47 158.32,698.95 158.00,700.00 C157.68,701.05 157.50,702.13 157.50,703.30 C157.50,704.47 157.75,705.80 158.00,707.00 C158.25,708.20 159.25,709.33 159.00,710.50 C158.75,711.67 157.53,712.65 156.50,714.00 C155.47,715.35 153.22,717.27 152.80,718.60 C152.38,719.93 153.55,720.93 154.00,722.00 C154.45,723.07 155.75,724.00 155.50,725.00 C155.25,726.00 153.25,727.07 152.50,728.00 C151.75,728.93 150.92,729.77 151.00,730.60 C151.08,731.43 151.67,731.47 153.00,733.00 C154.33,734.53 157.83,737.92 159.00,739.80 C160.17,741.68 159.83,743.55 160.00,744.30 L160.00,744.30 C160.17,743.55 159.83,741.68 161.00,739.80 C162.17,737.92 165.67,734.53 167.00,733.00 C168.33,731.47 168.92,731.43 169.00,730.60 C169.08,729.77 168.25,728.93 167.50,728.00 C166.75,727.07 164.75,726.00 164.50,725.00 C164.25,724.00 165.55,723.07 166.00,722.00 C166.45,720.93 167.62,719.93 167.20,718.60 C166.78,717.27 164.53,715.35 163.50,714.00 C162.47,712.65 161.25,711.67 161.00,710.50 C160.75,709.33 161.75,708.20 162.00,707.00 C162.25,705.80 162.50,704.47 162.50,703.30 C162.50,702.13 162.32,701.05 162.00,700.00 C161.68,698.95 160.93,698.47 160.60,697.00 C160.27,695.53 160.10,692.17 160.00,691.20Z" fill="#d3d3d3" stroke="#0a0a0a" stroke-width="0.65" stroke-linejoin="round"/>
<line x1="154.60000000000002" y1="725.4" x2="165.39999999999998" y2="725.4" stroke="#0a0a0a" stroke-width="1.3" stroke-linecap="butt"/>
<circle cx="160.38" cy="698.59" r="1.3" fill="#0a0a0a"/>
<circle cx="159.93" cy="704.31" r="1.3" fill="#0a0a0a"/>
<circle cx="159.72" cy="709.29" r="1.3" fill="#0a0a0a"/>
<circle cx="157.23" cy="714.63" r="1.3" fill="#0a0a0a"/>
<circle cx="162.61" cy="714.56" r="1.3" fill="#0a0a0a"/>
<circle cx="155.5" cy="719.55" r="1.3" fill="#0a0a0a"/>
<circle cx="160.16" cy="719.78" r="1.3" fill="#0a0a0a"/>
<circle cx="164.86" cy="719.66" r="1.3" fill="#0a0a0a"/>
<circle cx="157.87" cy="725.26" r="1.3" fill="#0a0a0a"/>
<circle cx="162.38" cy="725.03" r="1.3" fill="#0a0a0a"/>
<circle cx="152.45" cy="730.26" r="1.3" fill="#0a0a0a"/>
<circle cx="157.72" cy="730.49" r="1.3" fill="#0a0a0a"/>
<circle cx="162.66" cy="729.93" r="1.3" fill="#0a0a0a"/>
<circle cx="167.11" cy="730.23" r="1.3" fill="#0a0a0a"/>
<circle cx="157.22" cy="735.27" r="1.3" fill="#0a0a0a"/>
<circle cx="162.13" cy="734.99" r="1.3" fill="#0a0a0a"/>
<path d="M182.10,691.20 C182.02,692.15 182.10,695.43 181.60,696.90 C181.10,698.37 179.95,698.67 179.10,700.00 C178.25,701.33 176.83,703.57 176.50,704.90 C176.17,706.23 176.83,706.80 177.10,708.00 C177.37,709.20 178.10,710.77 178.10,712.10 C178.10,713.43 177.52,714.68 177.10,716.00 C176.68,717.32 176.10,718.67 175.60,720.00 C175.10,721.33 174.52,722.63 174.10,724.00 C173.68,725.37 172.93,727.03 173.10,728.20 C173.27,729.37 174.27,729.87 175.10,731.00 C175.93,732.13 177.10,733.53 178.10,735.00 C179.10,736.47 180.43,738.05 181.10,739.80 C181.77,741.55 181.93,744.55 182.10,745.50 L182.10,745.50 C182.27,744.55 182.43,741.55 183.10,739.80 C183.77,738.05 185.10,736.47 186.10,735.00 C187.10,733.53 188.27,732.13 189.10,731.00 C189.93,729.87 190.93,729.37 191.10,728.20 C191.27,727.03 190.52,725.37 190.10,724.00 C189.68,722.63 189.10,721.33 188.60,720.00 C188.10,718.67 187.52,717.32 187.10,716.00 C186.68,714.68 186.10,713.43 186.10,712.10 C186.10,710.77 186.83,709.20 187.10,708.00 C187.37,706.80 188.03,706.23 187.70,704.90 C187.37,703.57 185.95,701.33 185.10,700.00 C184.25,698.67 183.10,698.37 182.60,696.90 C182.10,695.43 182.18,692.15 182.10,691.20Z" fill="#4f97f2" stroke="#0a0a0a" stroke-width="0.65" stroke-linejoin="round"/>
<line x1="174.725" y1="721" x2="189.475" y2="721" stroke="#0a0a0a" stroke-width="1.3" stroke-linecap="butt"/>
<circle cx="181.75" cy="699.11" r="0.9" fill="#0a0a0a"/>
<circle cx="179.4" cy="703.9" r="0.9" fill="#0a0a0a"/>
<circle cx="184.41" cy="704.4" r="0.9" fill="#0a0a0a"/>
<circle cx="179.36" cy="709.26" r="0.9" fill="#0a0a0a"/>
<circle cx="184.54" cy="709.61" r="0.9" fill="#0a0a0a"/>
<circle cx="179.96" cy="714.79" r="0.9" fill="#0a0a0a"/>
<circle cx="184.32" cy="714.43" r="0.9" fill="#0a0a0a"/>
<circle cx="177.19" cy="720.01" r="0.9" fill="#0a0a0a"/>
<circle cx="182.47" cy="719.42" r="0.9" fill="#0a0a0a"/>
<circle cx="186.64" cy="719.49" r="0.9" fill="#0a0a0a"/>
<circle cx="177.09" cy="724.89" r="0.9" fill="#0a0a0a"/>
<circle cx="182.17" cy="724.71" r="0.9" fill="#0a0a0a"/>
<circle cx="186.5" cy="724.84" r="0.9" fill="#0a0a0a"/>
<circle cx="177.2" cy="730.15" r="0.9" fill="#0a0a0a"/>
<circle cx="182.46" cy="730.25" r="0.9" fill="#0a0a0a"/>
<circle cx="186.91" cy="730.19" r="0.9" fill="#0a0a0a"/>
<circle cx="179.84" cy="734.94" r="0.9" fill="#0a0a0a"/>
<circle cx="184.82" cy="735.52" r="0.9" fill="#0a0a0a"/>
<path d="M106.5,652.5 L106.5,646.5 L128.6,646.5 L128.6,652.5" fill="none" stroke="#333" stroke-width="0.9" />
<path d="M112.40,636.60 L112.40,641.40 M110.32,637.80 L114.48,640.20 M114.48,637.80 L110.32,640.20 " fill="none" stroke="#000" stroke-width="1.4" stroke-linecap="butt"/>
<circle cx="112.4" cy="639" r="1.32" fill="#000"/>
<path d="M117.60,636.60 L117.60,641.40 M115.52,637.80 L119.68,640.20 M119.68,637.80 L115.52,640.20 " fill="none" stroke="#000" stroke-width="1.4" stroke-linecap="butt"/>
<circle cx="117.6" cy="639" r="1.32" fill="#000"/>
<path d="M122.90,636.60 L122.90,641.40 M120.82,637.80 L124.98,640.20 M124.98,637.80 L120.82,640.20 " fill="none" stroke="#000" stroke-width="1.4" stroke-linecap="butt"/>
<circle cx="122.9" cy="639" r="1.32" fill="#000"/>
<line x1="283.75" y1="647" x2="283.75" y2="759.6" stroke="#000" stroke-width="1.25" stroke-linecap="butt"/>
<line x1="283.75" y1="759" x2="396.75" y2="759" stroke="#000" stroke-width="1.25" stroke-linecap="butt"/>
<line x1="279.75" y1="647" x2="283.75" y2="647" stroke="#000" stroke-width="1.25" stroke-linecap="butt"/>
<text transform="translate(278.25 651.4) scale(1 1.07)" font-size="10" text-anchor="end" fill="#000" >20</text>
<line x1="279.75" y1="669.5" x2="283.75" y2="669.5" stroke="#000" stroke-width="1.25" stroke-linecap="butt"/>
<text transform="translate(278.25 673.9) scale(1 1.07)" font-size="10" text-anchor="end" fill="#000" >15</text>
<line x1="279.75" y1="691.75" x2="283.75" y2="691.75" stroke="#000" stroke-width="1.25" stroke-linecap="butt"/>
<text transform="translate(278.25 696.15) scale(1 1.07)" font-size="10" text-anchor="end" fill="#000" >10</text>
<line x1="279.75" y1="714" x2="283.75" y2="714" stroke="#000" stroke-width="1.25" stroke-linecap="butt"/>
<text transform="translate(278.25 718.4) scale(1 1.07)" font-size="10" text-anchor="end" fill="#000" >5</text>
<line x1="279.75" y1="736.5" x2="283.75" y2="736.5" stroke="#000" stroke-width="1.25" stroke-linecap="butt"/>
<text transform="translate(278.25 740.9) scale(1 1.07)" font-size="10" text-anchor="end" fill="#000" >0</text>
<line x1="279.75" y1="759" x2="283.75" y2="759" stroke="#000" stroke-width="1.25" stroke-linecap="butt"/>
<text transform="translate(278.25 763.4) scale(1 1.07)" font-size="10" text-anchor="end" fill="#000" >-5</text>
<line x1="314.25" y1="759" x2="314.25" y2="764" stroke="#000" stroke-width="1.25" stroke-linecap="butt"/>
<text transform="translate(314.25 773.8) scale(1 1.12)" font-size="10" text-anchor="middle" fill="#000" >F</text>
<line x1="367.5" y1="759" x2="367.5" y2="764" stroke="#000" stroke-width="1.25" stroke-linecap="butt"/>
<text transform="translate(367.5 773.8) scale(1 1.12)" font-size="10" text-anchor="middle" fill="#000" >M</text>
<text transform="translate(269.5 594) scale(1 1.0)" font-size="18" text-anchor="start" font-weight="bold" fill="#000" >F</text>
<text transform="translate(338.75 617.5) scale(1 1.12)" font-size="13" text-anchor="middle" fill="#000" >IL-8</text>
<path d="M302.80,671.80 C302.68,672.67 302.40,675.63 302.10,677.00 C301.80,678.37 301.25,678.85 301.00,680.00 C300.75,681.15 300.55,682.73 300.60,683.90 C300.65,685.07 301.05,685.73 301.30,687.00 C301.55,688.27 301.97,690.17 302.10,691.50 C302.23,692.83 302.23,693.80 302.10,695.00 C301.97,696.20 301.77,697.20 301.30,698.70 C300.83,700.20 299.97,702.12 299.30,704.00 C298.63,705.88 297.97,708.17 297.30,710.00 C296.63,711.83 295.88,713.40 295.30,715.00 C294.72,716.60 293.72,718.43 293.80,719.60 C293.88,720.77 294.47,720.65 295.80,722.00 C297.13,723.35 300.63,725.82 301.80,727.70 C302.97,729.58 302.63,732.37 302.80,733.30 L302.80,733.30 C302.97,732.37 302.63,729.58 303.80,727.70 C304.97,725.82 308.47,723.35 309.80,722.00 C311.13,720.65 311.72,720.77 311.80,719.60 C311.88,718.43 310.88,716.60 310.30,715.00 C309.72,713.40 308.97,711.83 308.30,710.00 C307.63,708.17 306.97,705.88 306.30,704.00 C305.63,702.12 304.77,700.20 304.30,698.70 C303.83,697.20 303.63,696.20 303.50,695.00 C303.37,693.80 303.37,692.83 303.50,691.50 C303.63,690.17 304.05,688.27 304.30,687.00 C304.55,685.73 304.95,685.07 305.00,683.90 C305.05,682.73 304.85,681.15 304.60,680.00 C304.35,678.85 303.80,678.37 303.50,677.00 C303.20,675.63 302.92,672.67 302.80,671.80Z" fill="#d3d3d3" stroke="#0a0a0a" stroke-width="0.65" stroke-linejoin="round"/>
<line x1="295.2" y1="714" x2="310.40000000000003" y2="714" stroke="#0a0a0a" stroke-width="1.3" stroke-linecap="butt"/>
<circle cx="303.1" cy="678.34" r="1.3" fill="#0a0a0a"/>
<circle cx="302.71" cy="681.82" r="1.3" fill="#0a0a0a"/>
<circle cx="302.48" cy="685.81" r="1.3" fill="#0a0a0a"/>
<circle cx="302.45" cy="689.15" r="1.3" fill="#0a0a0a"/>
<circle cx="302.57" cy="696.83" r="1.3" fill="#0a0a0a"/>
<circle cx="302.67" cy="700.54" r="1.3" fill="#0a0a0a"/>
<circle cx="300.3" cy="704.42" r="1.3" fill="#0a0a0a"/>
<circle cx="304.58" cy="704.59" r="1.3" fill="#0a0a0a"/>
<circle cx="300.32" cy="708.8" r="1.3" fill="#0a0a0a"/>
<circle cx="304.99" cy="708.22" r="1.3" fill="#0a0a0a"/>
<circle cx="298.4" cy="712.18" r="1.3" fill="#0a0a0a"/>
<circle cx="302.69" cy="712.0" r="1.3" fill="#0a0a0a"/>
<circle cx="307.28" cy="712.69" r="1.3" fill="#0a0a0a"/>
<circle cx="296.47" cy="716.09" r="1.3" fill="#0a0a0a"/>
<circle cx="300.37" cy="715.78" r="1.3" fill="#0a0a0a"/>
<circle cx="304.77" cy="715.91" r="1.3" fill="#0a0a0a"/>
<circle cx="309.36" cy="715.83" r="1.3" fill="#0a0a0a"/>
<circle cx="296.12" cy="720.26" r="1.3" fill="#0a0a0a"/>
<circle cx="300.72" cy="719.62" r="1.3" fill="#0a0a0a"/>
<circle cx="304.93" cy="719.52" r="1.3" fill="#0a0a0a"/>
<circle cx="309.12" cy="720.28" r="1.3" fill="#0a0a0a"/>
<circle cx="300.99" cy="723.86" r="1.3" fill="#0a0a0a"/>
<circle cx="304.71" cy="723.59" r="1.3" fill="#0a0a0a"/>
<circle cx="302.53" cy="727.72" r="1.3" fill="#0a0a0a"/>
<path d="M325.20,677.40 C325.03,677.83 324.42,679.23 324.20,680.00 C323.98,680.77 323.87,681.17 323.90,682.00 C323.93,682.83 324.40,683.83 324.40,685.00 C324.40,686.17 323.90,687.83 323.90,689.00 C323.90,690.17 324.32,690.17 324.40,692.00 C324.48,693.83 324.60,697.53 324.40,700.00 C324.20,702.47 323.82,704.80 323.20,706.80 C322.58,708.80 321.47,710.13 320.70,712.00 C319.93,713.87 318.77,716.20 318.60,718.00 C318.43,719.80 319.93,721.47 319.70,722.80 C319.47,724.13 317.78,724.92 317.20,726.00 C316.62,727.08 316.03,728.13 316.20,729.30 C316.37,730.47 316.87,731.27 318.20,733.00 C319.53,734.73 323.03,737.87 324.20,739.70 C325.37,741.53 325.03,743.28 325.20,744.00 L325.20,744.00 C325.37,743.28 325.03,741.53 326.20,739.70 C327.37,737.87 330.87,734.73 332.20,733.00 C333.53,731.27 334.03,730.47 334.20,729.30 C334.37,728.13 333.78,727.08 333.20,726.00 C332.62,724.92 330.93,724.13 330.70,722.80 C330.47,721.47 331.97,719.80 331.80,718.00 C331.63,716.20 330.47,713.87 329.70,712.00 C328.93,710.13 327.82,708.80 327.20,706.80 C326.58,704.80 326.20,702.47 326.00,700.00 C325.80,697.53 325.92,693.83 326.00,692.00 C326.08,690.17 326.50,690.17 326.50,689.00 C326.50,687.83 326.00,686.17 326.00,685.00 C326.00,683.83 326.47,682.83 326.50,682.00 C326.53,681.17 326.42,680.77 326.20,680.00 C325.98,679.23 325.37,677.83 325.20,677.40Z" fill="#4f97f2" stroke="#0a0a0a" stroke-width="0.65" stroke-linejoin="round"/>
<line x1="317.6375" y1="724.8" x2="332.7625" y2="724.8" stroke="#0a0a0a" stroke-width="1.3" stroke-linecap="butt"/>
<circle cx="325.23" cy="690.52" r="0.9" fill="#0a0a0a"/>
<circle cx="325.06" cy="705.68" r="0.9" fill="#0a0a0a"/>
<circle cx="323.05" cy="711.49" r="0.9" fill="#0a0a0a"/>
<circle cx="327.88" cy="711.34" r="0.9" fill="#0a0a0a"/>
<circle cx="320.65" cy="716.49" r="0.9" fill="#0a0a0a"/>
<circle cx="324.98" cy="716.31" r="0.9" fill="#0a0a0a"/>
<circle cx="329.88" cy="715.92" r="0.9" fill="#0a0a0a"/>
<circle cx="322.42" cy="721.32" r="0.9" fill="#0a0a0a"/>
<circle cx="327.41" cy="721.65" r="0.9" fill="#0a0a0a"/>
<circle cx="320.77" cy="726.66" r="0.9" fill="#0a0a0a"/>
<circle cx="325.55" cy="727.09" r="0.9" fill="#0a0a0a"/>
<circle cx="330.36" cy="726.59" r="0.9" fill="#0a0a0a"/>
<circle cx="320.18" cy="731.68" r="0.9" fill="#0a0a0a"/>
<circle cx="324.96" cy="731.66" r="0.9" fill="#0a0a0a"/>
<circle cx="330.1" cy="732.22" r="0.9" fill="#0a0a0a"/>
<circle cx="325.47" cy="737.08" r="0.9" fill="#0a0a0a"/>
<path d="M356.50,705.30 C356.33,705.75 355.83,707.22 355.50,708.00 C355.17,708.78 355.00,709.17 354.50,710.00 C354.00,710.83 353.70,711.90 352.50,713.00 C351.30,714.10 347.97,715.60 347.30,716.60 C346.63,717.60 347.63,718.07 348.50,719.00 C349.37,719.93 351.67,721.03 352.50,722.20 C353.33,723.37 352.83,724.67 353.50,726.00 C354.17,727.33 356.00,729.50 356.50,730.20 L356.50,730.20 C357.00,729.50 358.83,727.33 359.50,726.00 C360.17,724.67 359.67,723.37 360.50,722.20 C361.33,721.03 363.63,719.93 364.50,719.00 C365.37,718.07 366.37,717.60 365.70,716.60 C365.03,715.60 361.70,714.10 360.50,713.00 C359.30,711.90 359.00,710.83 358.50,710.00 C358.00,709.17 357.83,708.78 357.50,708.00 C357.17,707.22 356.67,705.75 356.50,705.30Z" fill="#d3d3d3" stroke="#0a0a0a" stroke-width="0.65" stroke-linejoin="round"/>
<line x1="347.0" y1="717" x2="366.0" y2="717" stroke="#0a0a0a" stroke-width="1.3" stroke-linecap="butt"/>
<circle cx="356.62" cy="710.64" r="1.2" fill="#0a0a0a"/>
<circle cx="353.77" cy="713.13" r="1.2" fill="#0a0a0a"/>
<circle cx="359.23" cy="713.23" r="1.2" fill="#0a0a0a"/>
<circle cx="351.9" cy="715.58" r="1.2" fill="#0a0a0a"/>
<circle cx="356.24" cy="715.83" r="1.2" fill="#0a0a0a"/>
<circle cx="361.17" cy="715.84" r="1.2" fill="#0a0a0a"/>
<circle cx="352.08" cy="718.12" r="1.2" fill="#0a0a0a"/>
<circle cx="356.42" cy="718.56" r="1.2" fill="#0a0a0a"/>
<circle cx="361.48" cy="717.94" r="1.2" fill="#0a0a0a"/>
<circle cx="353.8" cy="720.52" r="1.2" fill="#0a0a0a"/>
<circle cx="359.22" cy="721.05" r="1.2" fill="#0a0a0a"/>
<circle cx="353.82" cy="723.66" r="1.2" fill="#0a0a0a"/>
<circle cx="359.28" cy="723.53" r="1.2" fill="#0a0a0a"/>
<circle cx="356.38" cy="726.04" r="1.2" fill="#0a0a0a"/>
<path d="M378.60,686.00 C378.47,687.00 378.22,689.67 377.80,692.00 C377.38,694.33 376.50,697.00 376.10,700.00 C375.70,703.00 375.45,707.33 375.40,710.00 C375.35,712.67 375.68,713.57 375.80,716.00 C375.92,718.43 376.63,722.60 376.10,724.60 C375.57,726.60 373.68,726.52 372.60,728.00 C371.52,729.48 369.60,732.00 369.60,733.50 C369.60,735.00 371.27,735.53 372.60,737.00 C373.93,738.47 376.60,740.42 377.60,742.30 C378.60,744.18 378.43,747.30 378.60,748.30 L378.60,748.30 C378.77,747.30 378.60,744.18 379.60,742.30 C380.60,740.42 383.27,738.47 384.60,737.00 C385.93,735.53 387.60,735.00 387.60,733.50 C387.60,732.00 385.68,729.48 384.60,728.00 C383.52,726.52 381.63,726.60 381.10,724.60 C380.57,722.60 381.28,718.43 381.40,716.00 C381.52,713.57 381.85,712.67 381.80,710.00 C381.75,707.33 381.50,703.00 381.10,700.00 C380.70,697.00 379.82,694.33 379.40,692.00 C378.98,689.67 378.73,687.00 378.60,686.00Z" fill="#4f97f2" stroke="#0a0a0a" stroke-width="0.65" stroke-linejoin="round"/>
<line x1="371.1181818181819" y1="729.8" x2="386.08181818181816" y2="729.8" stroke="#0a0a0a" stroke-width="1.3" stroke-linecap="butt"/>
<circle cx="378.3" cy="693.31" r="0.9" fill="#0a0a0a"/>
<circle cx="378.98" cy="699.02" r="0.9" fill="#0a0a0a"/>
<circle cx="378.62" cy="704.45" r="0.9" fill="#0a0a0a"/>
<circle cx="378.55" cy="709.6" r="0.9" fill="#0a0a0a"/>
<circle cx="378.86" cy="714.27" r="0.9" fill="#0a0a0a"/>
<circle cx="378.4" cy="719.53" r="0.9" fill="#0a0a0a"/>
<circle cx="378.39" cy="724.97" r="0.9" fill="#0a0a0a"/>
<circle cx="373.61" cy="730.04" r="0.9" fill="#0a0a0a"/>
<circle cx="378.3" cy="730.43" r="0.9" fill="#0a0a0a"/>
<circle cx="383.28" cy="730.07" r="0.9" fill="#0a0a0a"/>
<circle cx="373.87" cy="735.62" r="0.9" fill="#0a0a0a"/>
<circle cx="378.54" cy="735.63" r="0.9" fill="#0a0a0a"/>
<circle cx="383.4" cy="735.33" r="0.9" fill="#0a0a0a"/>
<circle cx="378.62" cy="740.11" r="0.9" fill="#0a0a0a"/>
<path d="M302.9,665 L302.9,659.6 Q302.9,658.6 303.9,658.6 L324.2,658.6 Q325.2,658.6 325.2,659.6 L325.2,665" fill="none" stroke="#777" stroke-width="1.0" />
<path d="M311.50,648.80 L311.50,654.20 M309.16,650.15 L313.84,652.85 M313.84,650.15 L309.16,652.85 " fill="none" stroke="#000" stroke-width="1.3" stroke-linecap="butt"/>
<circle cx="311.5" cy="651.5" r="1.4850000000000003" fill="#000"/>
<path d="M316.50,648.80 L316.50,654.20 M314.16,650.15 L318.84,652.85 M318.84,650.15 L314.16,652.85 " fill="none" stroke="#000" stroke-width="1.3" stroke-linecap="butt"/>
<circle cx="316.5" cy="651.5" r="1.4850000000000003" fill="#000"/>
<line x1="481.25" y1="647" x2="481.25" y2="760.6" stroke="#000" stroke-width="1.25" stroke-linecap="butt"/>
<line x1="481.25" y1="760" x2="593.75" y2="760" stroke="#000" stroke-width="1.25" stroke-linecap="butt"/>
<line x1="477.25" y1="647" x2="481.25" y2="647" stroke="#000" stroke-width="1.25" stroke-linecap="butt"/>
<text transform="translate(475.75 651.4) scale(1 1.07)" font-size="10" text-anchor="end" fill="#000" >60</text>
<line x1="477.25" y1="675.5" x2="481.25" y2="675.5" stroke="#000" stroke-width="1.25" stroke-linecap="butt"/>
<text transform="translate(475.75 679.9) scale(1 1.07)" font-size="10" text-anchor="end" fill="#000" >40</text>
<line x1="477.25" y1="703.5" x2="481.25" y2="703.5" stroke="#000" stroke-width="1.25" stroke-linecap="butt"/>
<text transform="translate(475.75 707.9) scale(1 1.07)" font-size="10" text-anchor="end" fill="#000" >20</text>
<line x1="477.25" y1="731.5" x2="481.25" y2="731.5" stroke="#000" stroke-width="1.25" stroke-linecap="butt"/>
<text transform="translate(475.75 735.9) scale(1 1.07)" font-size="10" text-anchor="end" fill="#000" >0</text>
<line x1="477.25" y1="760" x2="481.25" y2="760" stroke="#000" stroke-width="1.25" stroke-linecap="butt"/>
<text transform="translate(475.75 764.4) scale(1 1.07)" font-size="10" text-anchor="end" fill="#000" >-20</text>
<line x1="510.5" y1="760" x2="510.5" y2="765" stroke="#000" stroke-width="1.25" stroke-linecap="butt"/>
<text transform="translate(510.5 774.8) scale(1 1.12)" font-size="10" text-anchor="middle" fill="#000" >F</text>
<line x1="564.5" y1="760" x2="564.5" y2="765" stroke="#000" stroke-width="1.25" stroke-linecap="butt"/>
<text transform="translate(564.5 774.8) scale(1 1.12)" font-size="10" text-anchor="middle" fill="#000" >M</text>
<text transform="translate(459.5 594.5) scale(1 1.0)" font-size="18" text-anchor="start" font-weight="bold" fill="#000" >G</text>
<text transform="translate(537.5 618.8) scale(1 1.12)" font-size="13" text-anchor="middle" fill="#000" >CCL2</text>
<path d="M499.50,669.00 C499.33,669.50 498.77,671.00 498.50,672.00 C498.23,673.00 497.90,674.00 497.90,675.00 C497.90,676.00 498.30,677.17 498.50,678.00 C498.70,678.83 499.00,675.33 499.10,680.00 C499.20,684.67 499.28,701.13 499.10,706.00 C498.92,710.87 498.60,708.20 498.00,709.20 C497.40,710.20 496.58,711.12 495.50,712.00 C494.42,712.88 492.30,713.77 491.50,714.50 C490.70,715.23 490.78,715.65 490.70,716.40 C490.62,717.15 490.45,718.23 491.00,719.00 C491.55,719.77 493.42,719.70 494.00,721.00 C494.58,722.30 494.17,725.47 494.50,726.80 C494.83,728.13 495.33,728.18 496.00,729.00 C496.67,729.82 497.92,730.78 498.50,731.70 C499.08,732.62 499.33,734.03 499.50,734.50 L499.50,734.50 C499.67,734.03 499.92,732.62 500.50,731.70 C501.08,730.78 502.33,729.82 503.00,729.00 C503.67,728.18 504.17,728.13 504.50,726.80 C504.83,725.47 504.42,722.30 505.00,721.00 C505.58,719.70 507.45,719.77 508.00,719.00 C508.55,718.23 508.38,717.15 508.30,716.40 C508.22,715.65 508.30,715.23 507.50,714.50 C506.70,713.77 504.58,712.88 503.50,712.00 C502.42,711.12 501.60,710.20 501.00,709.20 C500.40,708.20 500.08,710.87 499.90,706.00 C499.72,701.13 499.80,684.67 499.90,680.00 C500.00,675.33 500.30,678.83 500.50,678.00 C500.70,677.17 501.10,676.00 501.10,675.00 C501.10,674.00 500.77,673.00 500.50,672.00 C500.23,671.00 499.67,669.50 499.50,669.00Z" fill="#d3d3d3" stroke="#0a0a0a" stroke-width="0.65" stroke-linejoin="round"/>
<line x1="490.80000000000007" y1="719.2" x2="508.19999999999993" y2="719.2" stroke="#0a0a0a" stroke-width="1.3" stroke-linecap="butt"/>
<circle cx="499.45" cy="676.45" r="1.3" fill="#0a0a0a"/>
<circle cx="499.1" cy="708.14" r="1.3" fill="#0a0a0a"/>
<circle cx="496.84" cy="713.08" r="1.3" fill="#0a0a0a"/>
<circle cx="502.08" cy="713.15" r="1.3" fill="#0a0a0a"/>
<circle cx="492.16" cy="718.31" r="1.3" fill="#0a0a0a"/>
<circle cx="497.14" cy="718.53" r="1.3" fill="#0a0a0a"/>
<circle cx="501.58" cy="718.35" r="1.3" fill="#0a0a0a"/>
<circle cx="506.5" cy="718.12" r="1.3" fill="#0a0a0a"/>
<circle cx="497.32" cy="723.51" r="1.3" fill="#0a0a0a"/>
<circle cx="501.95" cy="723.71" r="1.3" fill="#0a0a0a"/>
<circle cx="497.43" cy="728.65" r="1.3" fill="#0a0a0a"/>
<circle cx="501.99" cy="728.7" r="1.3" fill="#0a0a0a"/>
<path d="M521.50,674.20 C521.33,675.00 520.87,677.45 520.50,679.00 C520.13,680.55 519.33,682.17 519.30,683.50 C519.27,684.83 520.02,686.08 520.30,687.00 C520.58,687.92 521.05,688.00 521.00,689.00 C520.95,690.00 520.38,691.38 520.00,693.00 C519.62,694.62 518.75,696.87 518.70,698.70 C518.65,700.53 519.37,702.25 519.70,704.00 C520.03,705.75 521.15,707.70 520.70,709.20 C520.25,710.70 518.12,711.70 517.00,713.00 C515.88,714.30 514.75,715.63 514.00,717.00 C513.25,718.37 512.75,719.57 512.50,721.20 C512.25,722.83 511.83,725.17 512.50,726.80 C513.17,728.43 515.17,729.52 516.50,731.00 C517.83,732.48 519.67,734.25 520.50,735.70 C521.33,737.15 521.33,739.03 521.50,739.70 L521.50,739.70 C521.67,739.03 521.67,737.15 522.50,735.70 C523.33,734.25 525.17,732.48 526.50,731.00 C527.83,729.52 529.83,728.43 530.50,726.80 C531.17,725.17 530.75,722.83 530.50,721.20 C530.25,719.57 529.75,718.37 529.00,717.00 C528.25,715.63 527.12,714.30 526.00,713.00 C524.88,711.70 522.75,710.70 522.30,709.20 C521.85,707.70 522.97,705.75 523.30,704.00 C523.63,702.25 524.35,700.53 524.30,698.70 C524.25,696.87 523.38,694.62 523.00,693.00 C522.62,691.38 522.05,690.00 522.00,689.00 C521.95,688.00 522.42,687.92 522.70,687.00 C522.98,686.08 523.73,684.83 523.70,683.50 C523.67,682.17 522.87,680.55 522.50,679.00 C522.13,677.45 521.67,675.00 521.50,674.20Z" fill="#4f97f2" stroke="#0a0a0a" stroke-width="0.65" stroke-linejoin="round"/>
<line x1="512.0" y1="721.6" x2="531.0" y2="721.6" stroke="#0a0a0a" stroke-width="1.3" stroke-linecap="butt"/>
<circle cx="521.51" cy="682.05" r="0.9" fill="#0a0a0a"/>
<circle cx="521.46" cy="687.13" r="0.9" fill="#0a0a0a"/>
<circle cx="521.48" cy="692.65" r="0.9" fill="#0a0a0a"/>
<circle cx="521.66" cy="697.8" r="0.9" fill="#0a0a0a"/>
<circle cx="521.85" cy="702.51" r="0.9" fill="#0a0a0a"/>
<circle cx="521.55" cy="708.25" r="0.9" fill="#0a0a0a"/>
<circle cx="519.37" cy="712.81" r="0.9" fill="#0a0a0a"/>
<circle cx="523.6" cy="713.05" r="0.9" fill="#0a0a0a"/>
<circle cx="516.36" cy="718.09" r="0.9" fill="#0a0a0a"/>
<circle cx="521.16" cy="718.44" r="0.9" fill="#0a0a0a"/>
<circle cx="526.53" cy="718.62" r="0.9" fill="#0a0a0a"/>
<circle cx="514.02" cy="723.67" r="0.9" fill="#0a0a0a"/>
<circle cx="519.23" cy="723.21" r="0.9" fill="#0a0a0a"/>
<circle cx="524.21" cy="723.87" r="0.9" fill="#0a0a0a"/>
<circle cx="528.48" cy="723.86" r="0.9" fill="#0a0a0a"/>
<circle cx="516.62" cy="728.69" r="0.9" fill="#0a0a0a"/>
<circle cx="521.89" cy="728.97" r="0.9" fill="#0a0a0a"/>
<circle cx="526.03" cy="728.65" r="0.9" fill="#0a0a0a"/>
<circle cx="521.51" cy="733.77" r="0.9" fill="#0a0a0a"/>
<path d="M553.30,697.10 C553.13,697.42 552.63,698.27 552.30,699.00 C551.97,699.73 551.30,700.58 551.30,701.50 C551.30,702.42 552.30,703.35 552.30,704.50 C552.30,705.65 551.30,707.40 551.30,708.40 C551.30,709.40 552.13,709.83 552.30,710.50 C552.47,711.17 553.30,711.65 552.30,712.40 C551.30,713.15 547.63,714.07 546.30,715.00 C544.97,715.93 544.55,717.08 544.30,718.00 C544.05,718.92 544.80,719.70 544.80,720.50 C544.80,721.30 544.05,722.05 544.30,722.80 C544.55,723.55 545.38,723.97 546.30,725.00 C547.22,726.03 548.80,727.88 549.80,729.00 C550.80,730.12 551.72,730.98 552.30,731.70 C552.88,732.42 553.13,733.03 553.30,733.30 L553.30,733.30 C553.47,733.03 553.72,732.42 554.30,731.70 C554.88,730.98 555.80,730.12 556.80,729.00 C557.80,727.88 559.38,726.03 560.30,725.00 C561.22,723.97 562.05,723.55 562.30,722.80 C562.55,722.05 561.80,721.30 561.80,720.50 C561.80,719.70 562.55,718.92 562.30,718.00 C562.05,717.08 561.63,715.93 560.30,715.00 C558.97,714.07 555.30,713.15 554.30,712.40 C553.30,711.65 554.13,711.17 554.30,710.50 C554.47,709.83 555.30,709.40 555.30,708.40 C555.30,707.40 554.30,705.65 554.30,704.50 C554.30,703.35 555.30,702.42 555.30,701.50 C555.30,700.58 554.63,699.73 554.30,699.00 C553.97,698.27 553.47,697.42 553.30,697.10Z" fill="#d3d3d3" stroke="#0a0a0a" stroke-width="0.65" stroke-linejoin="round"/>
<line x1="544.0999999999999" y1="719.5" x2="562.5" y2="719.5" stroke="#0a0a0a" stroke-width="1.3" stroke-linecap="butt"/>
<circle cx="553.06" cy="699.45" r="1.3" fill="#0a0a0a"/>
<circle cx="553.48" cy="704.42" r="1.3" fill="#0a0a0a"/>
<circle cx="553.34" cy="709.95" r="1.3" fill="#0a0a0a"/>
<circle cx="548.11" cy="715.07" r="1.3" fill="#0a0a0a"/>
<circle cx="553.4" cy="715.21" r="1.3" fill="#0a0a0a"/>
<circle cx="557.75" cy="715.59" r="1.3" fill="#0a0a0a"/>
<circle cx="546.33" cy="720.78" r="1.3" fill="#0a0a0a"/>
<circle cx="550.58" cy="720.21" r="1.3" fill="#0a0a0a"/>
<circle cx="555.33" cy="720.62" r="1.3" fill="#0a0a0a"/>
<circle cx="560.32" cy="720.1" r="1.3" fill="#0a0a0a"/>
<circle cx="548.44" cy="725.93" r="1.3" fill="#0a0a0a"/>
<circle cx="553.56" cy="725.41" r="1.3" fill="#0a0a0a"/>
<circle cx="557.82" cy="725.94" r="1.3" fill="#0a0a0a"/>
<circle cx="553.36" cy="730.96" r="1.3" fill="#0a0a0a"/>
<path d="M575.50,674.20 C575.33,675.17 574.83,678.12 574.50,680.00 C574.17,681.88 573.50,684.00 573.50,685.50 C573.50,687.00 574.25,687.87 574.50,689.00 C574.75,690.13 575.25,690.97 575.00,692.30 C574.75,693.63 573.83,695.55 573.00,697.00 C572.17,698.45 570.72,699.77 570.00,701.00 C569.28,702.23 568.70,703.23 568.70,704.40 C568.70,705.57 569.62,706.67 570.00,708.00 C570.38,709.33 571.33,711.07 571.00,712.40 C570.67,713.73 568.82,714.80 568.00,716.00 C567.18,717.20 566.02,718.27 566.10,719.60 C566.18,720.93 567.60,722.60 568.50,724.00 C569.40,725.40 570.50,726.45 571.50,728.00 C572.50,729.55 573.83,731.42 574.50,733.30 C575.17,735.18 575.33,738.30 575.50,739.30 L575.50,739.30 C575.67,738.30 575.83,735.18 576.50,733.30 C577.17,731.42 578.50,729.55 579.50,728.00 C580.50,726.45 581.60,725.40 582.50,724.00 C583.40,722.60 584.82,720.93 584.90,719.60 C584.98,718.27 583.82,717.20 583.00,716.00 C582.18,714.80 580.33,713.73 580.00,712.40 C579.67,711.07 580.62,709.33 581.00,708.00 C581.38,706.67 582.30,705.57 582.30,704.40 C582.30,703.23 581.72,702.23 581.00,701.00 C580.28,699.77 578.83,698.45 578.00,697.00 C577.17,695.55 576.25,693.63 576.00,692.30 C575.75,690.97 576.25,690.13 576.50,689.00 C576.75,687.87 577.50,687.00 577.50,685.50 C577.50,684.00 576.83,681.88 576.50,680.00 C576.17,678.12 575.67,675.17 575.50,674.20Z" fill="#4f97f2" stroke="#0a0a0a" stroke-width="0.65" stroke-linejoin="round"/>
<line x1="567.5" y1="716" x2="583.5" y2="716" stroke="#0a0a0a" stroke-width="1.3" stroke-linecap="butt"/>
<circle cx="575.17" cy="681.55" r="0.9" fill="#0a0a0a"/>
<circle cx="575.65" cy="687.04" r="0.9" fill="#0a0a0a"/>
<circle cx="575.16" cy="697.85" r="0.9" fill="#0a0a0a"/>
<circle cx="570.81" cy="702.94" r="0.9" fill="#0a0a0a"/>
<circle cx="575.17" cy="702.98" r="0.9" fill="#0a0a0a"/>
<circle cx="579.95" cy="702.99" r="0.9" fill="#0a0a0a"/>
<circle cx="573.06" cy="707.77" r="0.9" fill="#0a0a0a"/>
<circle cx="577.94" cy="708.24" r="0.9" fill="#0a0a0a"/>
<circle cx="572.91" cy="712.8" r="0.9" fill="#0a0a0a"/>
<circle cx="577.92" cy="712.89" r="0.9" fill="#0a0a0a"/>
<circle cx="567.99" cy="718.03" r="0.9" fill="#0a0a0a"/>
<circle cx="572.74" cy="718.06" r="0.9" fill="#0a0a0a"/>
<circle cx="577.75" cy="718.14" r="0.9" fill="#0a0a0a"/>
<circle cx="582.91" cy="718.13" r="0.9" fill="#0a0a0a"/>
<circle cx="570.7" cy="723.24" r="0.9" fill="#0a0a0a"/>
<circle cx="575.38" cy="723.11" r="0.9" fill="#0a0a0a"/>
<circle cx="580.1" cy="723.11" r="0.9" fill="#0a0a0a"/>
<circle cx="573.29" cy="728.74" r="0.9" fill="#0a0a0a"/>
<circle cx="577.65" cy="728.68" r="0.9" fill="#0a0a0a"/>
<line x1="178" y1="853" x2="178" y2="966.35" stroke="#000" stroke-width="1.25" stroke-linecap="butt"/>
<line x1="178" y1="965.75" x2="290" y2="965.75" stroke="#000" stroke-width="1.25" stroke-linecap="butt"/>
<line x1="174" y1="853" x2="178" y2="853" stroke="#000" stroke-width="1.25" stroke-linecap="butt"/>
<text transform="translate(172.5 857.4) scale(1 1.07)" font-size="10" text-anchor="end" fill="#000" >2000</text>
<line x1="174" y1="875.5" x2="178" y2="875.5" stroke="#000" stroke-width="1.25" stroke-linecap="butt"/>
<text transform="translate(172.5 879.9) scale(1 1.07)" font-size="10" text-anchor="end" fill="#000" >1500</text>
<line x1="174" y1="898" x2="178" y2="898" stroke="#000" stroke-width="1.25" stroke-linecap="butt"/>
<text transform="translate(172.5 902.4) scale(1 1.07)" font-size="10" text-anchor="end" fill="#000" >1000</text>
<line x1="174" y1="920.75" x2="178" y2="920.75" stroke="#000" stroke-width="1.25" stroke-linecap="butt"/>
<text transform="translate(172.5 925.15) scale(1 1.07)" font-size="10" text-anchor="end" fill="#000" >500</text>
<line x1="174" y1="943.25" x2="178" y2="943.25" stroke="#000" stroke-width="1.25" stroke-linecap="butt"/>
<text transform="translate(172.5 947.65) scale(1 1.07)" font-size="10" text-anchor="end" fill="#000" >0</text>
<line x1="174" y1="965.75" x2="178" y2="965.75" stroke="#000" stroke-width="1.25" stroke-linecap="butt"/>
<text transform="translate(172.5 970.15) scale(1 1.07)" font-size="10" text-anchor="end" fill="#000" >-500</text>
<line x1="207.5" y1="965.75" x2="207.5" y2="970.75" stroke="#000" stroke-width="1.25" stroke-linecap="butt"/>
<text transform="translate(207.5 980.55) scale(1 1.12)" font-size="10" text-anchor="middle" fill="#000" >F</text>
<line x1="261.25" y1="965.75" x2="261.25" y2="970.75" stroke="#000" stroke-width="1.25" stroke-linecap="butt"/>
<text transform="translate(261.25 980.55) scale(1 1.12)" font-size="10" text-anchor="middle" fill="#000" >M</text>
<text transform="translate(151 805) scale(1 1.0)" font-size="18" text-anchor="start" font-weight="bold" fill="#000" >H</text>
<text transform="translate(235 823.8) scale(1 1.12)" font-size="13" text-anchor="middle" fill="#000" >CCL5</text>
<path d="M196.30,890.70 C196.17,891.08 195.75,892.17 195.50,893.00 C195.25,893.83 194.80,894.78 194.80,895.70 C194.80,896.62 195.50,897.62 195.50,898.50 C195.50,899.38 194.80,900.17 194.80,901.00 C194.80,901.83 195.58,902.75 195.50,903.50 C195.42,904.25 195.08,904.58 194.30,905.50 C193.52,906.42 192.03,907.82 190.80,909.00 C189.57,910.18 186.98,911.43 186.90,912.60 C186.82,913.77 188.98,914.67 190.30,916.00 C191.62,917.33 193.97,919.52 194.80,920.60 C195.63,921.68 195.30,921.90 195.30,922.50 C195.30,923.10 194.80,923.45 194.80,924.20 C194.80,924.95 195.30,925.97 195.30,927.00 C195.30,928.03 194.80,929.48 194.80,930.40 C194.80,931.32 195.05,931.75 195.30,932.50 C195.55,933.25 196.13,934.50 196.30,934.90 L196.30,934.90 C196.47,934.50 197.05,933.25 197.30,932.50 C197.55,931.75 197.80,931.32 197.80,930.40 C197.80,929.48 197.30,928.03 197.30,927.00 C197.30,925.97 197.80,924.95 197.80,924.20 C197.80,923.45 197.30,923.10 197.30,922.50 C197.30,921.90 196.97,921.68 197.80,920.60 C198.63,919.52 200.98,917.33 202.30,916.00 C203.62,914.67 205.78,913.77 205.70,912.60 C205.62,911.43 203.03,910.18 201.80,909.00 C200.57,907.82 199.08,906.42 198.30,905.50 C197.52,904.58 197.18,904.25 197.10,903.50 C197.02,902.75 197.80,901.83 197.80,901.00 C197.80,900.17 197.10,899.38 197.10,898.50 C197.10,897.62 197.80,896.62 197.80,895.70 C197.80,894.78 197.35,893.83 197.10,893.00 C196.85,892.17 196.43,891.08 196.30,890.70Z" fill="#d3d3d3" stroke="#0a0a0a" stroke-width="0.65" stroke-linejoin="round"/>
<line x1="186.4" y1="912.6" x2="206.20000000000002" y2="912.6" stroke="#0a0a0a" stroke-width="1.3" stroke-linecap="butt"/>
<circle cx="196.65" cy="895.89" r="1.3" fill="#0a0a0a"/>
<circle cx="196.56" cy="902.15" r="1.3" fill="#0a0a0a"/>
<circle cx="196.3" cy="905.47" r="1.3" fill="#0a0a0a"/>
<circle cx="193.81" cy="908.21" r="1.3" fill="#0a0a0a"/>
<circle cx="198.85" cy="908.59" r="1.3" fill="#0a0a0a"/>
<circle cx="191.37" cy="911.47" r="1.3" fill="#0a0a0a"/>
<circle cx="196.47" cy="911.31" r="1.3" fill="#0a0a0a"/>
<circle cx="201.02" cy="911.08" r="1.3" fill="#0a0a0a"/>
<circle cx="191.14" cy="913.9" r="1.3" fill="#0a0a0a"/>
<circle cx="195.96" cy="914.39" r="1.3" fill="#0a0a0a"/>
<circle cx="200.9" cy="913.93" r="1.3" fill="#0a0a0a"/>
<circle cx="193.57" cy="917.47" r="1.3" fill="#0a0a0a"/>
<circle cx="199.0" cy="917.34" r="1.3" fill="#0a0a0a"/>
<circle cx="196.13" cy="919.99" r="1.3" fill="#0a0a0a"/>
<circle cx="196.13" cy="923.17" r="1.3" fill="#0a0a0a"/>
<circle cx="196.03" cy="926.16" r="1.3" fill="#0a0a0a"/>
<circle cx="196.11" cy="929.57" r="1.3" fill="#0a0a0a"/>
<circle cx="196.68" cy="932.24" r="1.3" fill="#0a0a0a"/>
<path d="M218.50,876.00 C218.45,876.83 218.37,879.80 218.20,881.00 C218.03,882.20 218.12,882.37 217.50,883.20 C216.88,884.03 215.42,884.87 214.50,886.00 C213.58,887.13 212.60,888.83 212.00,890.00 C211.40,891.17 211.03,891.62 210.90,893.00 C210.77,894.38 211.35,896.63 211.20,898.30 C211.05,899.97 210.30,901.72 210.00,903.00 C209.70,904.28 209.23,905.00 209.40,906.00 C209.57,907.00 210.42,907.75 211.00,909.00 C211.58,910.25 212.37,911.27 212.90,913.50 C213.43,915.73 213.77,919.43 214.20,922.40 C214.63,925.37 214.95,928.63 215.50,931.30 C216.05,933.97 217.07,936.78 217.50,938.40 C217.93,940.02 217.93,939.65 218.10,941.00 C218.27,942.35 218.43,945.58 218.50,946.50 L218.50,946.50 C218.57,945.58 218.73,942.35 218.90,941.00 C219.07,939.65 219.07,940.02 219.50,938.40 C219.93,936.78 220.95,933.97 221.50,931.30 C222.05,928.63 222.37,925.37 222.80,922.40 C223.23,919.43 223.57,915.73 224.10,913.50 C224.63,911.27 225.42,910.25 226.00,909.00 C226.58,907.75 227.43,907.00 227.60,906.00 C227.77,905.00 227.30,904.28 227.00,903.00 C226.70,901.72 225.95,899.97 225.80,898.30 C225.65,896.63 226.23,894.38 226.10,893.00 C225.97,891.62 225.60,891.17 225.00,890.00 C224.40,888.83 223.42,887.13 222.50,886.00 C221.58,884.87 220.12,884.03 219.50,883.20 C218.88,882.37 218.97,882.20 218.80,881.00 C218.63,879.80 218.55,876.83 218.50,876.00Z" fill="#4f97f2" stroke="#0a0a0a" stroke-width="0.65" stroke-linejoin="round"/>
<line x1="210.92830188679244" y1="893.5" x2="226.07169811320756" y2="893.5" stroke="#555" stroke-width="0.5" stroke-linecap="butt"/>
<line x1="213.26516853932586" y1="916" x2="223.73483146067414" y2="916" stroke="#555" stroke-width="0.5" stroke-linecap="butt"/>
<line x1="209.32666666666665" y1="906.8" x2="227.67333333333335" y2="906.8" stroke="#0a0a0a" stroke-width="1.3" stroke-linecap="butt"/>
<circle cx="218.3" cy="884.07" r="0.9" fill="#0a0a0a"/>
<circle cx="215.95" cy="888.79" r="0.9" fill="#0a0a0a"/>
<circle cx="220.5" cy="888.81" r="0.9" fill="#0a0a0a"/>
<circle cx="213.68" cy="894.1" r="0.9" fill="#0a0a0a"/>
<circle cx="218.26" cy="894.1" r="0.9" fill="#0a0a0a"/>
<circle cx="222.9" cy="893.91" r="0.9" fill="#0a0a0a"/>
<circle cx="213.37" cy="899.22" r="0.9" fill="#0a0a0a"/>
<circle cx="218.13" cy="898.92" r="0.9" fill="#0a0a0a"/>
<circle cx="223.14" cy="899.09" r="0.9" fill="#0a0a0a"/>
<circle cx="211.37" cy="904.52" r="0.9" fill="#0a0a0a"/>
<circle cx="216.3" cy="904.63" r="0.9" fill="#0a0a0a"/>
<circle cx="221.07" cy="904.8" r="0.9" fill="#0a0a0a"/>
<circle cx="225.61" cy="904.36" r="0.9" fill="#0a0a0a"/>
<circle cx="214.09" cy="909.42" r="0.9" fill="#0a0a0a"/>
<circle cx="218.68" cy="909.81" r="0.9" fill="#0a0a0a"/>
<circle cx="222.94" cy="909.97" r="0.9" fill="#0a0a0a"/>
<circle cx="216.41" cy="915.0" r="0.9" fill="#0a0a0a"/>
<circle cx="221.09" cy="915.15" r="0.9" fill="#0a0a0a"/>
<circle cx="215.81" cy="920.12" r="0.9" fill="#0a0a0a"/>
<circle cx="220.9" cy="920.37" r="0.9" fill="#0a0a0a"/>
<circle cx="216.34" cy="925.56" r="0.9" fill="#0a0a0a"/>
<circle cx="220.97" cy="925.61" r="0.9" fill="#0a0a0a"/>
<circle cx="218.65" cy="930.65" r="0.9" fill="#0a0a0a"/>
<circle cx="218.28" cy="935.32" r="0.9" fill="#0a0a0a"/>
<path d="M250.20,896.10 C250.07,896.58 249.65,897.88 249.40,899.00 C249.15,900.12 249.40,901.63 248.70,902.80 C248.00,903.97 246.43,904.88 245.20,906.00 C243.97,907.12 241.80,908.33 241.30,909.50 C240.80,910.67 242.22,911.75 242.20,913.00 C242.18,914.25 240.70,915.83 241.20,917.00 C241.70,918.17 244.03,918.80 245.20,920.00 C246.37,921.20 247.70,923.20 248.20,924.20 C248.70,925.20 248.20,925.27 248.20,926.00 C248.20,926.73 248.07,927.77 248.20,928.60 C248.33,929.43 248.77,929.52 249.00,931.00 C249.23,932.48 249.65,935.82 249.60,937.50 C249.55,939.18 248.68,940.02 248.70,941.10 C248.72,942.18 249.45,942.88 249.70,944.00 C249.95,945.12 250.12,947.17 250.20,947.80 L250.20,947.80 C250.28,947.17 250.45,945.12 250.70,944.00 C250.95,942.88 251.68,942.18 251.70,941.10 C251.72,940.02 250.85,939.18 250.80,937.50 C250.75,935.82 251.17,932.48 251.40,931.00 C251.63,929.52 252.07,929.43 252.20,928.60 C252.33,927.77 252.20,926.73 252.20,926.00 C252.20,925.27 251.70,925.20 252.20,924.20 C252.70,923.20 254.03,921.20 255.20,920.00 C256.37,918.80 258.70,918.17 259.20,917.00 C259.70,915.83 258.22,914.25 258.20,913.00 C258.18,911.75 259.60,910.67 259.10,909.50 C258.60,908.33 256.43,907.12 255.20,906.00 C253.97,904.88 252.40,903.97 251.70,902.80 C251.00,901.63 251.25,900.12 251.00,899.00 C250.75,897.88 250.33,896.58 250.20,896.10Z" fill="#d3d3d3" stroke="#0a0a0a" stroke-width="0.65" stroke-linejoin="round"/>
<line x1="240.79999999999998" y1="916.6" x2="259.6" y2="916.6" stroke="#0a0a0a" stroke-width="1.3" stroke-linecap="butt"/>
<circle cx="249.91" cy="901.99" r="1.3" fill="#0a0a0a"/>
<circle cx="247.48" cy="905.87" r="1.3" fill="#0a0a0a"/>
<circle cx="252.65" cy="905.7" r="1.3" fill="#0a0a0a"/>
<circle cx="243.1" cy="909.24" r="1.3" fill="#0a0a0a"/>
<circle cx="247.79" cy="908.7" r="1.3" fill="#0a0a0a"/>
<circle cx="252.84" cy="909.3" r="1.3" fill="#0a0a0a"/>
<circle cx="257.4" cy="909.13" r="1.3" fill="#0a0a0a"/>
<circle cx="245.53" cy="912.25" r="1.3" fill="#0a0a0a"/>
<circle cx="250.39" cy="912.4" r="1.3" fill="#0a0a0a"/>
<circle cx="254.66" cy="912.41" r="1.3" fill="#0a0a0a"/>
<circle cx="243.18" cy="915.86" r="1.3" fill="#0a0a0a"/>
<circle cx="247.99" cy="916.48" r="1.3" fill="#0a0a0a"/>
<circle cx="252.6" cy="916.01" r="1.3" fill="#0a0a0a"/>
<circle cx="257.38" cy="916.25" r="1.3" fill="#0a0a0a"/>
<circle cx="248.01" cy="919.69" r="1.3" fill="#0a0a0a"/>
<circle cx="252.71" cy="919.26" r="1.3" fill="#0a0a0a"/>
<circle cx="249.92" cy="922.9" r="1.3" fill="#0a0a0a"/>
<circle cx="250.39" cy="926.44" r="1.3" fill="#0a0a0a"/>
<circle cx="250.25" cy="929.71" r="1.3" fill="#0a0a0a"/>
<circle cx="249.85" cy="940.42" r="1.3" fill="#0a0a0a"/>
<path d="M272.40,863.60 C272.30,864.67 272.00,867.93 271.80,870.00 C271.60,872.07 271.23,874.33 271.20,876.00 C271.17,877.67 271.73,878.22 271.60,880.00 C271.47,881.78 271.02,884.53 270.40,886.70 C269.78,888.87 268.82,890.78 267.90,893.00 C266.98,895.22 265.63,897.63 264.90,900.00 C264.17,902.37 263.33,905.20 263.50,907.20 C263.67,909.20 265.17,910.37 265.90,912.00 C266.63,913.63 267.48,914.53 267.90,917.00 C268.32,919.47 268.15,924.63 268.40,926.80 C268.65,928.97 268.90,928.80 269.40,930.00 C269.90,931.20 271.03,932.67 271.40,934.00 C271.77,935.33 271.65,936.82 271.60,938.00 C271.55,939.18 271.07,940.10 271.10,941.10 C271.13,942.10 271.58,942.67 271.80,944.00 C272.02,945.33 272.30,948.25 272.40,949.10 L272.40,949.10 C272.50,948.25 272.78,945.33 273.00,944.00 C273.22,942.67 273.67,942.10 273.70,941.10 C273.73,940.10 273.25,939.18 273.20,938.00 C273.15,936.82 273.03,935.33 273.40,934.00 C273.77,932.67 274.90,931.20 275.40,930.00 C275.90,928.80 276.15,928.97 276.40,926.80 C276.65,924.63 276.48,919.47 276.90,917.00 C277.32,914.53 278.17,913.63 278.90,912.00 C279.63,910.37 281.13,909.20 281.30,907.20 C281.47,905.20 280.63,902.37 279.90,900.00 C279.17,897.63 277.82,895.22 276.90,893.00 C275.98,890.78 275.02,888.87 274.40,886.70 C273.78,884.53 273.33,881.78 273.20,880.00 C273.07,878.22 273.63,877.67 273.60,876.00 C273.57,874.33 273.20,872.07 273.00,870.00 C272.80,867.93 272.50,864.67 272.40,863.60Z" fill="#4f97f2" stroke="#0a0a0a" stroke-width="0.65" stroke-linejoin="round"/>
<line x1="263.9" y1="909" x2="280.9" y2="909" stroke="#0a0a0a" stroke-width="1.3" stroke-linecap="butt"/>
<circle cx="272.54" cy="876.65" r="0.9" fill="#0a0a0a"/>
<circle cx="272.54" cy="881.53" r="0.9" fill="#0a0a0a"/>
<circle cx="272.41" cy="886.87" r="0.9" fill="#0a0a0a"/>
<circle cx="269.97" cy="891.79" r="0.9" fill="#0a0a0a"/>
<circle cx="275.11" cy="891.86" r="0.9" fill="#0a0a0a"/>
<circle cx="267.98" cy="897.65" r="0.9" fill="#0a0a0a"/>
<circle cx="272.01" cy="897.27" r="0.9" fill="#0a0a0a"/>
<circle cx="277.46" cy="897.67" r="0.9" fill="#0a0a0a"/>
<circle cx="267.56" cy="902.31" r="0.9" fill="#0a0a0a"/>
<circle cx="272.17" cy="902.86" r="0.9" fill="#0a0a0a"/>
<circle cx="276.97" cy="902.57" r="0.9" fill="#0a0a0a"/>
<circle cx="264.91" cy="907.72" r="0.9" fill="#0a0a0a"/>
<circle cx="270.36" cy="907.41" r="0.9" fill="#0a0a0a"/>
<circle cx="275.06" cy="907.71" r="0.9" fill="#0a0a0a"/>
<circle cx="279.91" cy="907.86" r="0.9" fill="#0a0a0a"/>
<circle cx="267.39" cy="913.22" r="0.9" fill="#0a0a0a"/>
<circle cx="272.39" cy="912.52" r="0.9" fill="#0a0a0a"/>
<circle cx="276.8" cy="912.89" r="0.9" fill="#0a0a0a"/>
<circle cx="269.96" cy="917.94" r="0.9" fill="#0a0a0a"/>
<circle cx="274.51" cy="917.98" r="0.9" fill="#0a0a0a"/>
<circle cx="269.85" cy="923.57" r="0.9" fill="#0a0a0a"/>
<circle cx="274.4" cy="923.5" r="0.9" fill="#0a0a0a"/>
<circle cx="272.67" cy="928.2" r="0.9" fill="#0a0a0a"/>
<circle cx="272.74" cy="933.87" r="0.9" fill="#0a0a0a"/>
<line x1="397" y1="852.5" x2="397" y2="966.1" stroke="#000" stroke-width="1.25" stroke-linecap="butt"/>
<line x1="397" y1="965.5" x2="510" y2="965.5" stroke="#000" stroke-width="1.25" stroke-linecap="butt"/>
<line x1="393" y1="852.5" x2="397" y2="852.5" stroke="#000" stroke-width="1.25" stroke-linecap="butt"/>
<text transform="translate(391.5 856.9) scale(1 1.07)" font-size="10" text-anchor="end" fill="#000" >50</text>
<line x1="393" y1="871.5" x2="397" y2="871.5" stroke="#000" stroke-width="1.25" stroke-linecap="butt"/>
<text transform="translate(391.5 875.9) scale(1 1.07)" font-size="10" text-anchor="end" fill="#000" >40</text>
<line x1="393" y1="890.5" x2="397" y2="890.5" stroke="#000" stroke-width="1.25" stroke-linecap="butt"/>
<text transform="translate(391.5 894.9) scale(1 1.07)" font-size="10" text-anchor="end" fill="#000" >30</text>
<line x1="393" y1="909.25" x2="397" y2="909.25" stroke="#000" stroke-width="1.25" stroke-linecap="butt"/>
<text transform="translate(391.5 913.65) scale(1 1.07)" font-size="10" text-anchor="end" fill="#000" >20</text>
<line x1="393" y1="928.25" x2="397" y2="928.25" stroke="#000" stroke-width="1.25" stroke-linecap="butt"/>
<text transform="translate(391.5 932.65) scale(1 1.07)" font-size="10" text-anchor="end" fill="#000" >10</text>
<line x1="393" y1="947" x2="397" y2="947" stroke="#000" stroke-width="1.25" stroke-linecap="butt"/>
<text transform="translate(391.5 951.4) scale(1 1.07)" font-size="10" text-anchor="end" fill="#000" >0</text>
<line x1="393" y1="965.5" x2="397" y2="965.5" stroke="#000" stroke-width="1.25" stroke-linecap="butt"/>
<text transform="translate(391.5 969.9) scale(1 1.07)" font-size="10" text-anchor="end" fill="#000" >-10</text>
<line x1="426.25" y1="965.5" x2="426.25" y2="970.5" stroke="#000" stroke-width="1.25" stroke-linecap="butt"/>
<text transform="translate(426.25 980.3) scale(1 1.12)" font-size="10" text-anchor="middle" fill="#000" >F</text>
<line x1="480.5" y1="965.5" x2="480.5" y2="970.5" stroke="#000" stroke-width="1.25" stroke-linecap="butt"/>
<text transform="translate(480.5 980.3) scale(1 1.12)" font-size="10" text-anchor="middle" fill="#000" >M</text>
<text transform="translate(380 807.5) scale(1 1.0)" font-size="18" text-anchor="start" font-weight="bold" fill="#000" >I</text>
<text transform="translate(456.25 822) scale(1 1.12)" font-size="13" text-anchor="middle" fill="#000" >bFGF</text>
<path d="M406.1,928.3 Q415.5,924.8 424.9,928.3 Q415.5,931.8 406.1,928.3Z" fill="#222" stroke="#111" stroke-width="0.8" />
<line x1="415.5" y1="925" x2="415.5" y2="931.6" stroke="#333" stroke-width="0.6" stroke-linecap="butt"/>
<path d="M437.70,873.00 C437.62,873.67 437.37,875.83 437.20,877.00 C437.03,878.17 436.95,878.50 436.70,880.00 C436.45,881.50 435.95,883.80 435.70,886.00 C435.45,888.20 435.50,890.87 435.20,893.20 C434.90,895.53 434.32,898.03 433.90,900.00 C433.48,901.97 433.08,903.30 432.70,905.00 C432.32,906.70 431.85,908.53 431.60,910.20 C431.35,911.87 431.55,912.80 431.20,915.00 C430.85,917.20 429.92,920.90 429.50,923.40 C429.08,925.90 428.87,927.50 428.70,930.00 C428.53,932.50 427.83,936.07 428.50,938.40 C429.17,940.73 431.33,942.12 432.70,944.00 C434.07,945.88 435.87,947.65 436.70,949.70 C437.53,951.75 437.53,955.20 437.70,956.30 L437.70,956.30 C437.87,955.20 437.87,951.75 438.70,949.70 C439.53,947.65 441.33,945.88 442.70,944.00 C444.07,942.12 446.23,940.73 446.90,938.40 C447.57,936.07 446.87,932.50 446.70,930.00 C446.53,927.50 446.32,925.90 445.90,923.40 C445.48,920.90 444.55,917.20 444.20,915.00 C443.85,912.80 444.05,911.87 443.80,910.20 C443.55,908.53 443.08,906.70 442.70,905.00 C442.32,903.30 441.92,901.97 441.50,900.00 C441.08,898.03 440.50,895.53 440.20,893.20 C439.90,890.87 439.95,888.20 439.70,886.00 C439.45,883.80 438.95,881.50 438.70,880.00 C438.45,878.50 438.37,878.17 438.20,877.00 C438.03,875.83 437.78,873.67 437.70,873.00Z" fill="#4f97f2" stroke="#0a0a0a" stroke-width="0.65" stroke-linejoin="round"/>
<line x1="431.5333333333333" y1="911" x2="443.8666666666667" y2="911" stroke="#555" stroke-width="0.5" stroke-linecap="butt"/>
<line x1="428.5095238095238" y1="938" x2="446.8904761904762" y2="938" stroke="#555" stroke-width="0.5" stroke-linecap="butt"/>
<line x1="428.7212121212121" y1="925.7" x2="446.6787878787879" y2="925.7" stroke="#0a0a0a" stroke-width="1.3" stroke-linecap="butt"/>
<circle cx="438.02" cy="881.33" r="0.9" fill="#0a0a0a"/>
<circle cx="437.6" cy="887.41" r="0.9" fill="#0a0a0a"/>
<circle cx="438.1" cy="893.57" r="0.9" fill="#0a0a0a"/>
<circle cx="437.59" cy="899.44" r="0.9" fill="#0a0a0a"/>
<circle cx="434.27" cy="905.14" r="0.9" fill="#0a0a0a"/>
<circle cx="440.63" cy="905.77" r="0.9" fill="#0a0a0a"/>
<circle cx="434.28" cy="911.85" r="0.9" fill="#0a0a0a"/>
<circle cx="440.75" cy="911.31" r="0.9" fill="#0a0a0a"/>
<circle cx="434.46" cy="917.25" r="0.9" fill="#0a0a0a"/>
<circle cx="440.85" cy="917.86" r="0.9" fill="#0a0a0a"/>
<circle cx="431.51" cy="923.75" r="0.9" fill="#0a0a0a"/>
<circle cx="437.8" cy="923.83" r="0.9" fill="#0a0a0a"/>
<circle cx="444.55" cy="923.54" r="0.9" fill="#0a0a0a"/>
<circle cx="431.38" cy="929.14" r="0.9" fill="#0a0a0a"/>
<circle cx="437.89" cy="929.46" r="0.9" fill="#0a0a0a"/>
<circle cx="444.4" cy="929.62" r="0.9" fill="#0a0a0a"/>
<circle cx="431.03" cy="935.14" r="0.9" fill="#0a0a0a"/>
<circle cx="438.04" cy="935.2" r="0.9" fill="#0a0a0a"/>
<circle cx="444.18" cy="935.37" r="0.9" fill="#0a0a0a"/>
<circle cx="434.29" cy="941.69" r="0.9" fill="#0a0a0a"/>
<circle cx="441.33" cy="941.31" r="0.9" fill="#0a0a0a"/>
<circle cx="437.82" cy="947.34" r="0.9" fill="#0a0a0a"/>
<path d="M491.70,875.80 C491.53,876.50 491.50,878.55 490.70,880.00 C489.90,881.45 487.70,882.17 486.90,884.50 C486.10,886.83 486.15,890.78 485.90,894.00 C485.65,897.22 485.60,901.13 485.40,903.80 C485.20,906.47 484.97,907.67 484.70,910.00 C484.43,912.33 483.80,915.80 483.80,917.80 C483.80,919.80 484.47,920.55 484.70,922.00 C484.93,923.45 485.45,924.83 485.20,926.50 C484.95,928.17 483.65,930.25 483.20,932.00 C482.75,933.75 482.08,935.33 482.50,937.00 C482.92,938.67 484.67,940.33 485.70,942.00 C486.73,943.67 487.87,945.50 488.70,947.00 C489.53,948.50 490.20,949.50 490.70,951.00 C491.20,952.50 491.53,955.17 491.70,956.00 L491.70,956.00 C491.87,955.17 492.20,952.50 492.70,951.00 C493.20,949.50 493.87,948.50 494.70,947.00 C495.53,945.50 496.67,943.67 497.70,942.00 C498.73,940.33 500.48,938.67 500.90,937.00 C501.32,935.33 500.65,933.75 500.20,932.00 C499.75,930.25 498.45,928.17 498.20,926.50 C497.95,924.83 498.47,923.45 498.70,922.00 C498.93,920.55 499.60,919.80 499.60,917.80 C499.60,915.80 498.97,912.33 498.70,910.00 C498.43,907.67 498.20,906.47 498.00,903.80 C497.80,901.13 497.75,897.22 497.50,894.00 C497.25,890.78 497.30,886.83 496.50,884.50 C495.70,882.17 493.50,881.45 492.70,880.00 C491.90,878.55 491.87,876.50 491.70,875.80Z" fill="#4f97f2" stroke="#0a0a0a" stroke-width="0.65" stroke-linejoin="round"/>
<line x1="485.208064516129" y1="905.5" x2="498.19193548387096" y2="905.5" stroke="#555" stroke-width="0.5" stroke-linecap="butt"/>
<line x1="482.864" y1="934.4" x2="500.536" y2="934.4" stroke="#555" stroke-width="0.5" stroke-linecap="butt"/>
<line x1="483.6642857142857" y1="919.5" x2="499.73571428571427" y2="919.5" stroke="#0a0a0a" stroke-width="1.3" stroke-linecap="butt"/>
<circle cx="488.5" cy="884.22" r="0.9" fill="#0a0a0a"/>
<circle cx="494.68" cy="884.03" r="0.9" fill="#0a0a0a"/>
<circle cx="488.22" cy="890.62" r="0.9" fill="#0a0a0a"/>
<circle cx="494.95" cy="890.08" r="0.9" fill="#0a0a0a"/>
<circle cx="488.78" cy="896.7" r="0.9" fill="#0a0a0a"/>
<circle cx="494.91" cy="896.01" r="0.9" fill="#0a0a0a"/>
<circle cx="488.2" cy="901.97" r="0.9" fill="#0a0a0a"/>
<circle cx="494.82" cy="901.97" r="0.9" fill="#0a0a0a"/>
<circle cx="488.24" cy="908.11" r="0.9" fill="#0a0a0a"/>
<circle cx="495.01" cy="908.61" r="0.9" fill="#0a0a0a"/>
<circle cx="488.65" cy="914.23" r="0.9" fill="#0a0a0a"/>
<circle cx="494.88" cy="914.32" r="0.9" fill="#0a0a0a"/>
<circle cx="488.35" cy="920.17" r="0.9" fill="#0a0a0a"/>
<circle cx="494.6" cy="920.12" r="0.9" fill="#0a0a0a"/>
<circle cx="488.82" cy="926.0" r="0.9" fill="#0a0a0a"/>
<circle cx="494.95" cy="926.4" r="0.9" fill="#0a0a0a"/>
<circle cx="485.49" cy="932.07" r="0.9" fill="#0a0a0a"/>
<circle cx="491.52" cy="932.1" r="0.9" fill="#0a0a0a"/>
<circle cx="498.12" cy="932.26" r="0.9" fill="#0a0a0a"/>
<circle cx="485.56" cy="938.58" r="0.9" fill="#0a0a0a"/>
<circle cx="492.0" cy="937.92" r="0.9" fill="#0a0a0a"/>
<circle cx="497.83" cy="938.47" r="0.9" fill="#0a0a0a"/>
<circle cx="488.77" cy="944.28" r="0.9" fill="#0a0a0a"/>
<circle cx="495.02" cy="943.9" r="0.9" fill="#0a0a0a"/>
<circle cx="491.61" cy="950.64" r="0.9" fill="#0a0a0a"/>
<line x1="16.5" y1="646.4" x2="16.5" y2="780.6" stroke="#999" stroke-width="1" stroke-linecap="butt"/>
<line x1="17.3" y1="825" x2="17.3" y2="958" stroke="#999" stroke-width="1" stroke-linecap="butt"/>
<text transform="translate(21.5 801) rotate(-90) scale(1 1.12)" font-size="10" text-anchor="middle" fill="#000" >pg/mL</text>
<rect x="62.5" y="999" width="14" height="7.4" fill="#d3d3d3" stroke="#555" stroke-width="0.8"/>
<text transform="translate(85 1006) scale(1 1.12)" font-size="10.5" text-anchor="start" fill="#000" >Healthy</text>
<rect x="140.3" y="999" width="14" height="7.4" fill="#4f97f2" stroke="#333" stroke-width="0.8"/>
<text transform="translate(162 1006.5) scale(1 1.12)" font-size="11.5" text-anchor="start" fill="#000" >DRE</text>
</svg></body></html>
